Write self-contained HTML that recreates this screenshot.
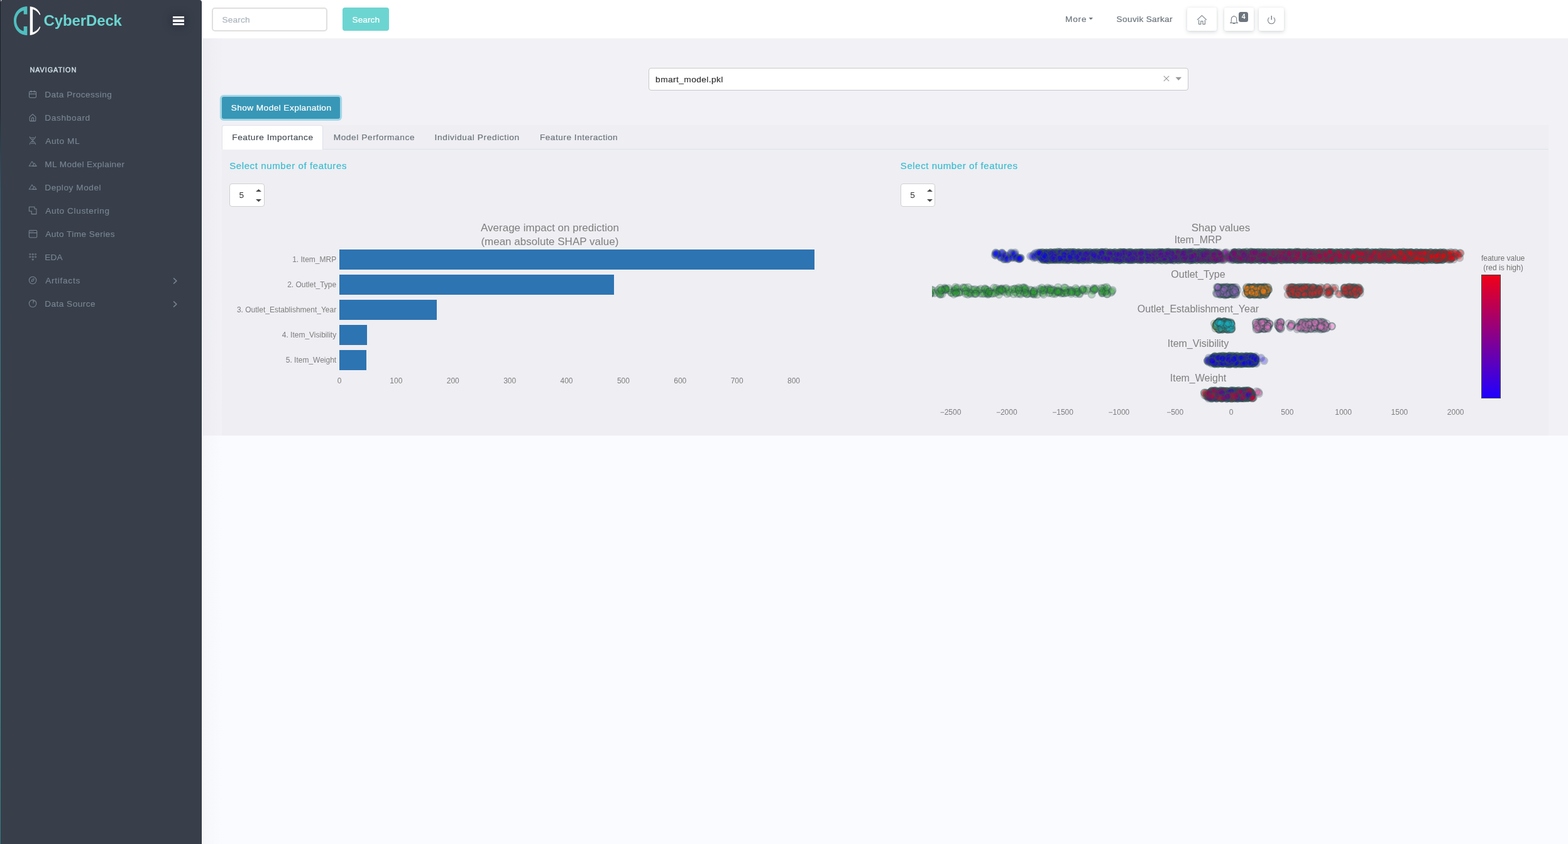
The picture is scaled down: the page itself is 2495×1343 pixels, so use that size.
<!DOCTYPE html><html lang="en"><head><meta charset="utf-8"><title>CyberDeck</title><style>html,body{margin:0;padding:0}body{width:2495px;height:1343px;overflow:hidden;position:relative;background:#fafbfe;font-family:"Liberation Sans", sans-serif}.a{position:absolute;display:block}.t{position:absolute;white-space:pre;line-height:1;display:block}#side{left:0;top:0;width:321px;height:1343px;box-sizing:border-box;background:#383f4a;border-top-right-radius:4px;border-right:1px solid #2c343f;border-left:1px solid #303641}#top{left:320px;top:0;width:2175px;height:61px;background:#fff}#cont{left:320px;top:61px;width:2175px;height:632px;background:#f1f1f6}#panel{left:352.5px;top:199px;width:2111px;height:494px;background:#eeeef3}.ib{background:#fff;border-radius:3px;box-shadow:0 2px 6px 0 rgba(108,117,125,.28),0 0 2px 0 rgba(108,117,125,.12)}.sc circle{opacity:.3;r:5.5px}.sc circle.e{opacity:.62;fill:none}</style></head><body><div class="a" id="top"></div><div class="a" id="cont"></div><div class="a" id="panel"></div><div class="a" id="side"></div><div class="a" style="left:321px;top:61px;width:1px;height:1282px;background:#fbfbfd"></div><div class="a" style="left:322px;top:61px;width:32px;height:1282px;background:linear-gradient(to right,rgba(154,161,171,.06),rgba(154,161,171,.028) 45%,rgba(154,161,171,0))"></div><div class="a" style="left:0;top:0;width:1px;height:1343px;background:linear-gradient(to bottom,#1b1f25 0,#20262d 170px,#2f5d78 300px,#35788e 520px,#2b8787 760px,#3a9a98 1000px,#2d8088 1343px)"></div><div class="a" style="left:1px;top:0;width:2px;height:1px;background:linear-gradient(to right,#f4f4f8,#9a9ea6)"></div><div class="a" style="left:1px;top:1px;width:1px;height:2px;background:linear-gradient(to bottom,#b8bbc2,#5a606b)"></div><nav aria-label="Main navigation"><svg class="a" style="left:20px;top:8px" width="48" height="50" viewBox="20 8 48 50"><path fill="#4fbfc0" d="M43.3 10.3 C30.5 10.3 22 20.5 22 33.2 C22 45.8 30.5 56 43.3 56 V42 H37.7 V49.6 C30.6 47.6 26 41 26 33.2 C26 25.3 30.6 18.7 37.7 16.7 V22.8 H43.3 Z"/><path fill="#fff" d="M47.7 10.3 C55.5 10.8 61.8 15.6 64.3 23.1 L63.2 23.9 C60.6 19 56.8 16 52.1 14.8 V51.5 C56.8 50.3 60.6 47 63.2 42.3 L64.3 43.1 C61.8 50.7 55.5 55.5 47.7 56 Z"/></svg><span class="t" style="left:69.60px;top:21.00px;font-size:24px;color:#6bd5d1;font-weight:bold;letter-spacing:-0.132px;">CyberDeck</span><div class="a" style="left:273px;top:24px;width:22px;height:18px;border-radius:8px;background:rgba(44,50,62,.5);box-shadow:0 0 9px 5px rgba(44,50,62,.5)"></div><div class="a" style="left:275.3px;top:25.9px;width:17.5px;height:3.4px;background:#fff"></div><div class="a" style="left:275.3px;top:31.3px;width:17.5px;height:3.4px;background:#fff"></div><div class="a" style="left:275.3px;top:36.7px;width:17.5px;height:3.4px;background:#fff"></div><span class="t" style="left:47.40px;top:106.00px;font-size:10.8px;color:#cedce4;letter-spacing:0.979px;-webkit-text-stroke:.45px #cedce4;">NAVIGATION</span><span class="t" style="left:71.25px;top:144.00px;font-size:13.6px;color:#7a8695;letter-spacing:0.484px;-webkit-text-stroke:.1px;">Data Processing</span><span class="t" style="left:71.25px;top:181.00px;font-size:13.6px;color:#7a8695;letter-spacing:0.676px;-webkit-text-stroke:.1px;">Dashboard</span><span class="t" style="left:72.25px;top:218.00px;font-size:13.6px;color:#7a8695;letter-spacing:0.614px;-webkit-text-stroke:.1px;">Auto ML</span><span class="t" style="left:71.25px;top:255.00px;font-size:13.6px;color:#7a8695;letter-spacing:0.426px;-webkit-text-stroke:.1px;">ML Model Explainer</span><span class="t" style="left:71.25px;top:292.00px;font-size:13.6px;color:#7a8695;letter-spacing:0.559px;-webkit-text-stroke:.1px;">Deploy Model</span><span class="t" style="left:72.25px;top:329.00px;font-size:13.6px;color:#7a8695;letter-spacing:0.626px;-webkit-text-stroke:.1px;">Auto Clustering</span><span class="t" style="left:72.25px;top:366.00px;font-size:13.6px;color:#7a8695;letter-spacing:0.446px;-webkit-text-stroke:.1px;">Auto Time Series</span><span class="t" style="left:71.25px;top:403.00px;font-size:13.6px;color:#7a8695;letter-spacing:0.183px;-webkit-text-stroke:.1px;">EDA</span><span class="t" style="left:72.25px;top:440.00px;font-size:13.6px;color:#7a8695;letter-spacing:0.731px;-webkit-text-stroke:.1px;">Artifacts</span><span class="t" style="left:71.25px;top:477.00px;font-size:13.6px;color:#7a8695;letter-spacing:0.475px;-webkit-text-stroke:.1px;">Data Source</span><svg class="a" style="left:45px;top:143px" width="14" height="14" viewBox="0 0 14 14" fill="none" stroke="#7a8695" stroke-width="1.05" stroke-linecap="round" stroke-linejoin="round"><rect x="1.5" y="2.6" width="11" height="9.8" rx="1.6"/><path d="M1.5 6.4h11M4.4 1.2v2.6M9.6 1.2v2.6"/></svg><svg class="a" style="left:45px;top:180px" width="14" height="14" viewBox="0 0 14 14" fill="none" stroke="#7a8695" stroke-width="1.05" stroke-linecap="round" stroke-linejoin="round"><path d="M2.2 6.2 7 1.7l4.8 4.5v5.3a1.1 1.1 0 0 1-1.1 1.1H3.3a1.1 1.1 0 0 1-1.1-1.1z"/><path d="M5.5 12.4V8.6a1.5 1.5 0 0 1 3 0v3.8"/></svg><svg class="a" style="left:45px;top:217px" width="14" height="14" viewBox="0 0 14 14" fill="none" stroke="#7a8695" stroke-width="0.95" stroke-linecap="round" stroke-linejoin="round"><path d="M2.2 .5C2.2 5.600 11.600 7.400 11.600 12.800M11.600 .5C11.600 5.600 2.200 7.400 2.200 12.800M3.400 2.300h6.600M4 11h6.600M5.600 4.900h2.800M5.600 8.500h2.800"/></svg><svg class="a" style="left:45px;top:253.2px" width="14" height="14" viewBox="0 0 14 14" fill="none" stroke="#7a8695" stroke-width="1" stroke-linecap="round" stroke-linejoin="round"><path d="M1.4 11.100 5.950 3.800l2.300 3.800M7 11.100l2.600-4.700 3.300 4.700zM1.400 11.100H12.900"/></svg><svg class="a" style="left:45px;top:290.2px" width="14" height="14" viewBox="0 0 14 14" fill="none" stroke="#7a8695" stroke-width="1" stroke-linecap="round" stroke-linejoin="round"><path d="M1.4 11.100 5.950 3.800l2.300 3.800M7 11.100l2.600-4.700 3.300 4.700zM1.400 11.100H12.900"/></svg><svg class="a" style="left:45px;top:328px" width="14" height="14" viewBox="0 0 14 14" fill="none" stroke="#7a8695" stroke-width="1.05" stroke-linecap="round" stroke-linejoin="round"><path d="M1.4 1.300H10V4.200h2.900v8.400H5.200V7.900H1.400z"/></svg><svg class="a" style="left:45px;top:364.5px" width="15" height="14" viewBox="0 0 15 14" fill="none" stroke="#7a8695" stroke-width="1.05" stroke-linecap="round" stroke-linejoin="round"><rect x="1.3" y="1.5" width="12.4" height="11.4" rx="1.4"/><path d="M1.3 5.400h12.400"/><path d="M3.600 3.500h.1M5.600 3.500h.1M7.600 3.500h.1" stroke-width="1"/></svg><svg class="a" style="left:45px;top:402px" width="14" height="14" viewBox="0 0 14 14" fill="none" stroke="#7a8695" stroke-width="0.9" stroke-linecap="round" stroke-linejoin="round"><circle cx="2.7" cy="2.6" r="1.05"/><circle cx="7.1" cy="2.6" r="1.05"/><circle cx="11.5" cy="2.6" r="1.05"/><circle cx="2.7" cy="6.8" r="1.05"/><circle cx="7.1" cy="6.8" r="1.05"/><circle cx="11.5" cy="6.8" r="1.05"/><circle cx="7.1" cy="11" r="1.05"/></svg><svg class="a" style="left:45px;top:439px" width="14" height="14" viewBox="0 0 14 14" fill="none" stroke="#7a8695" stroke-width="1.05" stroke-linecap="round" stroke-linejoin="round"><circle cx="7.05" cy="7" r="5.700"/><path d="M9.100 4.900 8.100 8.100 5 9.100 6 5.900z" stroke-width=".9"/></svg><svg class="a" style="left:45px;top:476px" width="14" height="14" viewBox="0 0 14 14" fill="none" stroke="#7a8695" stroke-width="1.05" stroke-linecap="round" stroke-linejoin="round"><circle cx="7.05" cy="7" r="5.700"/><path d="M8 1.600v4.800M8 3.600h1.400" stroke-width=".9"/></svg><svg class="a" style="left:273px;top:440.3px" width="12" height="14" viewBox="0 0 12 14" fill="none" stroke="#7a8695" stroke-width="1.7" stroke-linecap="round" stroke-linejoin="round"><path d="M3.6 3 7.9 7 3.6 11"/></svg><svg class="a" style="left:273px;top:477.3px" width="12" height="14" viewBox="0 0 12 14" fill="none" stroke="#7a8695" stroke-width="1.7" stroke-linecap="round" stroke-linejoin="round"><path d="M3.6 3 7.9 7 3.6 11"/></svg></nav><header><div class="a" style="left:337px;top:12px;width:184px;height:38px;box-sizing:border-box;border:2px solid #e1dfde;border-radius:5px;background:#fff"></div><span class="t" style="left:353.60px;top:25.20px;font-size:13.7px;color:#adb5bd;letter-spacing:0.129px;-webkit-text-stroke:.2px;">Search</span><div class="a" style="left:545.2px;top:12px;width:73.7px;height:36.8px;border-radius:4px;background:#6dd5d1"></div><span class="t" style="left:560.50px;top:24.50px;font-size:13.7px;color:#fff;letter-spacing:0.029px;-webkit-text-stroke:.2px;">Search</span><span class="t" style="left:1694.90px;top:24.00px;font-size:13.7px;color:#6c757d;letter-spacing:0.843px;-webkit-text-stroke:.2px;">More</span><svg class="a" style="left:1732px;top:28px" width="8" height="4" viewBox="0 0 8 4"><path d="M.5 0h6.6L3.8 3.4z" fill="#6c757d"/></svg><span class="t" style="left:1776.60px;top:24.00px;font-size:13.7px;color:#6c757d;letter-spacing:0.313px;-webkit-text-stroke:.2px;">Souvik Sarkar</span><div class="a ib" style="left:1889px;top:11.8px;width:47.1px;height:37.3px"></div><div class="a ib" style="left:1947.8px;top:11.8px;width:47.2px;height:37.3px"></div><div class="a ib" style="left:2002.9px;top:11.8px;width:40.2px;height:37.3px"></div><svg class="a" style="left:1903px;top:23px" width="19" height="18" viewBox="0 0 19 18" fill="none" stroke="#70787f" stroke-width="1.05" stroke-linejoin="miter"><path d="M2 8.7 9.4 1.7l7.4 7M4.6 8.6v6.8h3.2v-4.6H11v4.6h3.400V8.600"/></svg><svg class="a" style="left:1955.3px;top:23px" width="18" height="18" viewBox="0 0 18 18" fill="none" stroke="#70787f" stroke-width="1.05" stroke-linejoin="miter"><path d="M2.100 13.4H15M3.700 13.2c.7-1.200.6-3.200.6-6a4.200 4.200 0 0 1 8.400 0c0 2.800-.1 4.800.6 6M8.500 3V1.700M7 13.800a1.600 1.600 0 0 0 3 0"/></svg><div class="a" style="left:1971.1px;top:19px;width:14.8px;height:15.9px;border-radius:3.5px;background:#6c757d"></div><span class="t" style="left:1975.75px;top:21.00px;font-size:10.6px;color:#fff;font-weight:bold;">4</span><svg class="a" style="left:2014px;top:23px" width="18" height="18" viewBox="0 0 18 18" fill="none" stroke="#70787f" stroke-width="1.05" stroke-linejoin="miter"><path d="M5.500 4.900a5.600 5.600 0 1 0 7.200 0"/><path d="M9.200 2.100v6.500" stroke-width="1.35"/></svg></header><main><div class="a" style="left:1032px;top:108px;width:859px;height:36px;box-sizing:border-box;border:1px solid #c8c8cb;border-radius:4px;background:#fff"></div><span class="t" style="left:1043.10px;top:119.90px;font-size:13.7px;color:#333;letter-spacing:0.433px;-webkit-text-stroke:.2px;">bmart_model.pkl</span><svg class="a" style="left:1850px;top:119px" width="12" height="12" viewBox="0 0 12 12" fill="none" stroke="#999" stroke-width="1.1"><path d="M1.800 1.800l8.400 8.400M10.200 1.800 1.800 10.200"/></svg><svg class="a" style="left:1870px;top:122px" width="11" height="7" viewBox="0 0 11 7"><path d="M.5 .7h9.600L5.300 5.900z" fill="#999"/></svg><div class="a" style="left:353px;top:153.6px;width:188.3px;height:35.5px;border-radius:3px;background:#3897b6;box-shadow:0 0 0 3.1px rgba(87,187,216,.5)"></div><span class="t" style="left:367.70px;top:165.10px;font-size:13.7px;color:#fff;letter-spacing:0.412px;-webkit-text-stroke:.2px;">Show Model Explanation</span><div class="a" style="left:353px;top:237.2px;width:2110.5px;height:1px;background:#dee2e6"></div><div class="a" style="left:353px;top:199.2px;width:160.8px;height:39px;box-sizing:border-box;border:1px solid #dee2e6;border-bottom:none;border-radius:4px 4px 0 0;background:#fff"></div><span class="t" style="left:369.30px;top:211.90px;font-size:13.7px;color:#495057;letter-spacing:0.545px;-webkit-text-stroke:.2px;">Feature Importance</span><span class="t" style="left:530.70px;top:211.90px;font-size:13.7px;color:#6c757d;letter-spacing:0.586px;-webkit-text-stroke:.2px;">Model Performance</span><span class="t" style="left:691.60px;top:211.90px;font-size:13.7px;color:#6c757d;letter-spacing:0.601px;-webkit-text-stroke:.2px;">Individual Prediction</span><span class="t" style="left:858.90px;top:211.90px;font-size:13.7px;color:#6c757d;letter-spacing:0.496px;-webkit-text-stroke:.2px;">Feature Interaction</span><span class="t" style="left:365.20px;top:256.20px;font-size:15.0px;color:#3bbccf;letter-spacing:0.602px;-webkit-text-stroke:.2px;">Select number of features</span><div class="a" style="left:365.2px;top:292.1px;width:55.5px;height:36.6px;box-sizing:border-box;border:1px solid #cfcfd2;border-radius:4px;background:#fff"></div><span class="t" style="left:380.60px;top:304.00px;font-size:13.7px;color:#333;letter-spacing:-0.600px;">5</span><svg class="a" style="left:406.1px;top:300px" width="11" height="22" viewBox="0 0 11 22"><path d="M1 5.100h9L5.500 .9zM1 17h9L5.500 21.200z" fill="#4a4a4a"/></svg><span class="t" style="left:1432.80px;top:256.20px;font-size:15.0px;color:#3bbccf;letter-spacing:0.602px;-webkit-text-stroke:.2px;">Select number of features</span><div class="a" style="left:1432.8px;top:292.1px;width:55.5px;height:36.6px;box-sizing:border-box;border:1px solid #cfcfd2;border-radius:4px;background:#fff"></div><span class="t" style="left:1448.20px;top:304.00px;font-size:13.7px;color:#333;letter-spacing:-0.600px;">5</span><svg class="a" style="left:1473.7px;top:300px" width="11" height="22" viewBox="0 0 11 22"><path d="M1 5.100h9L5.500 .9zM1 17h9L5.500 21.200z" fill="#4a4a4a"/></svg><span class="t" style="left:765.06px;top:354.20px;font-size:17px;color:#7f7f7f;">Average impact on prediction</span><span class="t" style="left:765.39px;top:376.20px;font-size:17px;color:#7f7f7f;">(mean absolute SHAP value)</span><div class="a" style="left:540px;top:397px;width:755.9px;height:32px;background:#2d74b2"></div><span class="t" style="left:465.18px;top:407.20px;font-size:12px;color:#7f7f7f;">1. Item_MRP</span><div class="a" style="left:540px;top:437px;width:437.3px;height:32px;background:#2d74b2"></div><span class="t" style="left:457.15px;top:447.20px;font-size:12px;color:#7f7f7f;">2. Outlet_Type</span><div class="a" style="left:540px;top:477px;width:154.7px;height:32px;background:#2d74b2"></div><span class="t" style="left:376.88px;top:487.20px;font-size:12px;color:#7f7f7f;">3. Outlet_Establishment_Year</span><div class="a" style="left:540px;top:517px;width:44.1px;height:32px;background:#2d74b2"></div><span class="t" style="left:448.72px;top:527.20px;font-size:12px;color:#7f7f7f;">4. Item_Visibility</span><div class="a" style="left:540px;top:557px;width:43.3px;height:32px;background:#2d74b2"></div><span class="t" style="left:454.72px;top:567.20px;font-size:12px;color:#7f7f7f;">5. Item_Weight</span><span class="t" style="left:536.66px;top:600.00px;font-size:12px;color:#7f7f7f;">0</span><span class="t" style="left:620.37px;top:600.00px;font-size:12px;color:#7f7f7f;">100</span><span class="t" style="left:710.75px;top:600.00px;font-size:12px;color:#7f7f7f;">200</span><span class="t" style="left:801.13px;top:600.00px;font-size:12px;color:#7f7f7f;">300</span><span class="t" style="left:891.51px;top:600.00px;font-size:12px;color:#7f7f7f;">400</span><span class="t" style="left:981.89px;top:600.00px;font-size:12px;color:#7f7f7f;">500</span><span class="t" style="left:1072.27px;top:600.00px;font-size:12px;color:#7f7f7f;">600</span><span class="t" style="left:1162.65px;top:600.00px;font-size:12px;color:#7f7f7f;">700</span><span class="t" style="left:1253.03px;top:600.00px;font-size:12px;color:#7f7f7f;">800</span><span class="t" style="left:1895.72px;top:354.20px;font-size:17px;color:#7f7f7f;">Shap values</span><span class="t" style="left:1868.71px;top:374.00px;font-size:16px;color:#7f7f7f;">Item_MRP</span><span class="t" style="left:1863.36px;top:429.00px;font-size:16px;color:#7f7f7f;">Outlet_Type</span><span class="t" style="left:1809.85px;top:484.00px;font-size:16px;color:#7f7f7f;">Outlet_Establishment_Year</span><span class="t" style="left:1857.74px;top:539.00px;font-size:16px;color:#7f7f7f;">Item_Visibility</span><span class="t" style="left:1861.74px;top:594.00px;font-size:16px;color:#7f7f7f;">Item_Weight</span><span class="t" style="left:1495.65px;top:650.00px;font-size:12px;color:#7f7f7f;">−2500</span><span class="t" style="left:1584.95px;top:650.00px;font-size:12px;color:#7f7f7f;">−2000</span><span class="t" style="left:1674.25px;top:650.00px;font-size:12px;color:#7f7f7f;">−1500</span><span class="t" style="left:1763.55px;top:650.00px;font-size:12px;color:#7f7f7f;">−1000</span><span class="t" style="left:1856.19px;top:650.00px;font-size:12px;color:#7f7f7f;">−500</span><span class="t" style="left:1955.66px;top:650.00px;font-size:12px;color:#7f7f7f;">0</span><span class="t" style="left:2038.29px;top:650.00px;font-size:12px;color:#7f7f7f;">500</span><span class="t" style="left:2124.25px;top:650.00px;font-size:12px;color:#7f7f7f;">1000</span><span class="t" style="left:2213.55px;top:650.00px;font-size:12px;color:#7f7f7f;">1500</span><span class="t" style="left:2302.85px;top:650.00px;font-size:12px;color:#7f7f7f;">2000</span><span class="t" style="left:2356.91px;top:405.00px;font-size:12px;color:#747474;">feature value</span><span class="t" style="left:2360.32px;top:420.00px;font-size:12px;color:#747474;">(red is high)</span><div class="a" style="left:2357px;top:437px;width:31px;height:197px;box-sizing:border-box;border:1px solid #444;background:linear-gradient(to bottom,#f00018,#2000ff)"></div><svg class="a sc" style="left:1483px;top:390px" width="860" height="256" viewBox="0 0 860 256"><defs><linearGradient id="g1" gradientUnits="userSpaceOnUse" x1="107" x2="842"><stop offset="0" stop-color="#101cbf"/><stop offset="1" stop-color="#b41c1c"/></linearGradient></defs><g stroke="#2f4f4f" stroke-width="2"><circle cx="100.2" cy="15.9" fill="#0000ff"/><circle cx="103.8" cy="14.3" fill="#0700f8"/><circle cx="101.7" cy="16.3" fill="#0000ff"/><circle cx="101.4" cy="12.1" fill="#0500fa"/><circle cx="103.3" cy="13.3" fill="#0000ff"/><circle cx="101.3" cy="13.0" fill="#0000ff"/><circle cx="111.5" cy="13.4" fill="#0000ff"/><circle cx="111.3" cy="12.2" fill="#0000ff"/><circle cx="111.2" cy="12.8" fill="#0a00f5"/><circle cx="109.3" cy="19.1" fill="#0000ff"/><circle cx="108.9" cy="17.8" fill="#0000ff"/><circle cx="109.6" cy="19.8" fill="#0b00f4"/><circle cx="114.7" cy="22.2" fill="#0500fa"/><circle cx="114.5" cy="22.3" fill="#0000ff"/><circle cx="117.0" cy="21.8" fill="#0600f9"/><circle cx="116.8" cy="17.8" fill="#0000ff"/><circle cx="117.1" cy="16.2" fill="#0b00f4"/><circle cx="116.4" cy="16.4" fill="#3000cf"/><circle cx="120.6" cy="21.5" fill="#0000ff"/><circle cx="121.1" cy="21.6" fill="#0c00f3"/><circle cx="119.8" cy="23.0" fill="#1100ee"/><circle cx="125.5" cy="13.3" fill="#1600e9"/><circle cx="126.1" cy="11.9" fill="#0800f7"/><circle cx="127.0" cy="14.2" fill="#1300ec"/><circle cx="128.5" cy="18.6" fill="#0000ff"/><circle cx="127.0" cy="20.2" fill="#1000ef"/><circle cx="128.0" cy="19.7" fill="#0100fe"/><circle cx="132.2" cy="12.0" fill="#1400eb"/><circle cx="131.1" cy="14.9" fill="#0100fe"/><circle cx="131.5" cy="14.1" fill="#0000ff"/><circle cx="134.6" cy="19.9" fill="#0a00f5"/><circle cx="134.9" cy="18.8" fill="#0400fb"/><circle cx="133.0" cy="20.7" fill="#0a00f5"/><circle cx="137.8" cy="21.9" fill="#0000ff"/><circle cx="140.6" cy="20.2" fill="#0200fd"/><circle cx="138.7" cy="21.3" fill="#0900f6"/><circle cx="141.2" cy="20.7" fill="#0200fd"/><circle cx="139.9" cy="21.9" fill="#0600f9"/><circle cx="138.8" cy="21.8" fill="#0b00f4"/><rect x="167.6" y="6.4" width="295.8" height="22.2" rx="11.1" fill="#2f4f4f" stroke="none" opacity="0.79"/><rect x="168.8" y="8.1" width="293.4" height="18.8" rx="9.4" fill="url(#g1)" stroke="none" opacity="0.92"/><g opacity="0.92"><circle class="e" cx="175.8" cy="11.8"/><circle class="e" cx="182.1" cy="11.9"/><circle class="e" cx="188.8" cy="11.5"/><circle class="e" cx="195.1" cy="11.5"/><circle class="e" cx="200.2" cy="11.1"/><circle class="e" cx="203.8" cy="11.1"/><circle class="e" cx="210.5" cy="11.6"/><circle class="e" cx="217.1" cy="11.2"/><circle class="e" cx="221.6" cy="11.2"/><circle class="e" cx="226.0" cy="11.3"/><circle class="e" cx="233.2" cy="11.6"/><circle class="e" cx="240.9" cy="11.7"/><circle class="e" cx="245.5" cy="11.5"/><circle class="e" cx="251.2" cy="11.4"/><circle class="e" cx="258.2" cy="11.8"/><circle class="e" cx="262.5" cy="11.4"/><circle class="e" cx="269.8" cy="11.3"/><circle class="e" cx="276.7" cy="11.1"/><circle class="e" cx="283.6" cy="11.7"/><circle class="e" cx="290.9" cy="11.4"/><circle class="e" cx="299.2" cy="11.2"/><circle class="e" cx="305.1" cy="11.4"/><circle class="e" cx="312.6" cy="11.4"/><circle class="e" cx="316.1" cy="11.3"/><circle class="e" cx="324.5" cy="11.8"/><circle class="e" cx="329.3" cy="11.7"/><circle class="e" cx="333.9" cy="11.9"/><circle class="e" cx="341.5" cy="11.8"/><circle class="e" cx="345.4" cy="11.8"/><circle class="e" cx="349.8" cy="11.8"/><circle class="e" cx="354.8" cy="11.8"/><circle class="e" cx="360.8" cy="11.3"/><circle class="e" cx="366.6" cy="11.4"/><circle class="e" cx="372.6" cy="11.3"/><circle class="e" cx="376.2" cy="11.1"/><circle class="e" cx="381.6" cy="11.6"/><circle class="e" cx="386.0" cy="11.6"/><circle class="e" cx="389.7" cy="11.4"/><circle class="e" cx="393.4" cy="11.8"/><circle class="e" cx="401.6" cy="11.2"/><circle class="e" cx="406.7" cy="11.8"/><circle class="e" cx="410.8" cy="11.5"/><circle class="e" cx="414.9" cy="11.1"/><circle class="e" cx="421.4" cy="11.6"/><circle class="e" cx="427.0" cy="11.1"/><circle class="e" cx="431.7" cy="11.0"/><circle class="e" cx="435.8" cy="11.3"/><circle class="e" cx="442.2" cy="11.4"/><circle class="e" cx="449.6" cy="11.7"/><circle class="e" cx="177.2" cy="23.3"/><circle class="e" cx="185.2" cy="23.8"/><circle class="e" cx="190.4" cy="23.4"/><circle class="e" cx="196.0" cy="23.3"/><circle class="e" cx="201.0" cy="23.5"/><circle class="e" cx="205.7" cy="23.3"/><circle class="e" cx="211.0" cy="23.6"/><circle class="e" cx="216.9" cy="23.7"/><circle class="e" cx="225.2" cy="23.4"/><circle class="e" cx="229.6" cy="23.4"/><circle class="e" cx="233.4" cy="23.7"/><circle class="e" cx="240.2" cy="23.8"/><circle class="e" cx="246.3" cy="23.4"/><circle class="e" cx="251.2" cy="23.5"/><circle class="e" cx="259.4" cy="23.3"/><circle class="e" cx="265.4" cy="23.6"/><circle class="e" cx="270.3" cy="23.8"/><circle class="e" cx="276.4" cy="23.3"/><circle class="e" cx="284.7" cy="23.1"/><circle class="e" cx="292.7" cy="23.6"/><circle class="e" cx="298.1" cy="24.0"/><circle class="e" cx="304.8" cy="23.4"/><circle class="e" cx="312.1" cy="23.2"/><circle class="e" cx="316.1" cy="23.4"/><circle class="e" cx="320.5" cy="23.3"/><circle class="e" cx="328.8" cy="23.3"/><circle class="e" cx="333.6" cy="23.3"/><circle class="e" cx="340.9" cy="23.4"/><circle class="e" cx="347.1" cy="23.2"/><circle class="e" cx="354.6" cy="23.8"/><circle class="e" cx="361.6" cy="23.3"/><circle class="e" cx="365.5" cy="23.9"/><circle class="e" cx="371.9" cy="23.9"/><circle class="e" cx="377.4" cy="23.1"/><circle class="e" cx="385.0" cy="23.9"/><circle class="e" cx="392.3" cy="23.8"/><circle class="e" cx="397.3" cy="23.2"/><circle class="e" cx="404.9" cy="23.2"/><circle class="e" cx="410.3" cy="23.9"/><circle class="e" cx="414.4" cy="23.6"/><circle class="e" cx="421.1" cy="23.7"/><circle class="e" cx="428.7" cy="23.8"/><circle class="e" cx="435.2" cy="23.7"/><circle class="e" cx="441.6" cy="23.8"/><circle class="e" cx="449.1" cy="23.8"/></g><rect x="471.6" y="6.4" width="352.8" height="22.2" rx="11.1" fill="#2f4f4f" stroke="none" opacity="0.79"/><rect x="472.8" y="8.1" width="350.4" height="18.8" rx="9.4" fill="url(#g1)" stroke="none" opacity="0.92"/><g opacity="0.92"><circle class="e" cx="481.1" cy="11.6"/><circle class="e" cx="488.3" cy="11.2"/><circle class="e" cx="495.9" cy="11.6"/><circle class="e" cx="500.6" cy="11.0"/><circle class="e" cx="507.2" cy="11.1"/><circle class="e" cx="512.8" cy="11.4"/><circle class="e" cx="518.7" cy="11.2"/><circle class="e" cx="524.0" cy="11.3"/><circle class="e" cx="529.9" cy="11.6"/><circle class="e" cx="535.6" cy="11.5"/><circle class="e" cx="539.3" cy="11.8"/><circle class="e" cx="543.7" cy="11.6"/><circle class="e" cx="549.7" cy="11.3"/><circle class="e" cx="555.6" cy="11.8"/><circle class="e" cx="559.4" cy="11.7"/><circle class="e" cx="567.8" cy="11.2"/><circle class="e" cx="572.2" cy="11.4"/><circle class="e" cx="578.8" cy="11.1"/><circle class="e" cx="582.9" cy="11.0"/><circle class="e" cx="590.2" cy="11.7"/><circle class="e" cx="597.2" cy="11.1"/><circle class="e" cx="603.1" cy="11.8"/><circle class="e" cx="609.3" cy="11.6"/><circle class="e" cx="617.0" cy="11.6"/><circle class="e" cx="623.8" cy="11.6"/><circle class="e" cx="630.5" cy="11.4"/><circle class="e" cx="636.9" cy="11.6"/><circle class="e" cx="643.7" cy="11.5"/><circle class="e" cx="650.8" cy="11.3"/><circle class="e" cx="659.3" cy="11.2"/><circle class="e" cx="663.0" cy="11.6"/><circle class="e" cx="670.4" cy="11.2"/><circle class="e" cx="675.7" cy="11.0"/><circle class="e" cx="679.2" cy="11.3"/><circle class="e" cx="684.3" cy="11.2"/><circle class="e" cx="689.2" cy="11.4"/><circle class="e" cx="693.0" cy="11.1"/><circle class="e" cx="700.4" cy="11.6"/><circle class="e" cx="705.9" cy="11.4"/><circle class="e" cx="712.8" cy="11.1"/><circle class="e" cx="716.4" cy="11.3"/><circle class="e" cx="721.9" cy="11.2"/><circle class="e" cx="727.1" cy="11.5"/><circle class="e" cx="732.3" cy="11.7"/><circle class="e" cx="738.8" cy="11.7"/><circle class="e" cx="744.3" cy="11.6"/><circle class="e" cx="750.0" cy="11.1"/><circle class="e" cx="754.1" cy="11.9"/><circle class="e" cx="762.3" cy="11.4"/><circle class="e" cx="770.8" cy="11.4"/><circle class="e" cx="777.9" cy="11.8"/><circle class="e" cx="785.7" cy="11.9"/><circle class="e" cx="793.4" cy="11.6"/><circle class="e" cx="801.0" cy="11.9"/><circle class="e" cx="808.9" cy="11.7"/><circle class="e" cx="814.3" cy="11.8"/><circle class="e" cx="479.7" cy="23.2"/><circle class="e" cx="485.6" cy="23.5"/><circle class="e" cx="493.4" cy="23.3"/><circle class="e" cx="501.7" cy="23.2"/><circle class="e" cx="508.4" cy="23.3"/><circle class="e" cx="513.7" cy="23.4"/><circle class="e" cx="521.8" cy="24.0"/><circle class="e" cx="529.5" cy="23.2"/><circle class="e" cx="536.6" cy="23.2"/><circle class="e" cx="540.9" cy="23.9"/><circle class="e" cx="544.5" cy="24.0"/><circle class="e" cx="548.3" cy="23.7"/><circle class="e" cx="556.7" cy="23.8"/><circle class="e" cx="562.8" cy="23.3"/><circle class="e" cx="567.1" cy="23.3"/><circle class="e" cx="570.8" cy="23.2"/><circle class="e" cx="578.4" cy="23.7"/><circle class="e" cx="584.5" cy="23.5"/><circle class="e" cx="588.5" cy="23.8"/><circle class="e" cx="592.1" cy="23.3"/><circle class="e" cx="598.1" cy="23.5"/><circle class="e" cx="603.8" cy="23.3"/><circle class="e" cx="611.3" cy="23.4"/><circle class="e" cx="615.5" cy="23.2"/><circle class="e" cx="620.3" cy="24.0"/><circle class="e" cx="628.3" cy="23.8"/><circle class="e" cx="634.0" cy="23.9"/><circle class="e" cx="639.2" cy="23.5"/><circle class="e" cx="643.3" cy="23.9"/><circle class="e" cx="650.4" cy="23.8"/><circle class="e" cx="657.7" cy="23.2"/><circle class="e" cx="662.0" cy="23.6"/><circle class="e" cx="669.9" cy="23.8"/><circle class="e" cx="675.8" cy="23.6"/><circle class="e" cx="682.4" cy="23.9"/><circle class="e" cx="689.2" cy="23.3"/><circle class="e" cx="696.4" cy="23.5"/><circle class="e" cx="704.1" cy="23.2"/><circle class="e" cx="710.7" cy="23.4"/><circle class="e" cx="715.4" cy="23.3"/><circle class="e" cx="719.7" cy="24.0"/><circle class="e" cx="728.0" cy="23.3"/><circle class="e" cx="732.9" cy="23.4"/><circle class="e" cx="740.6" cy="23.4"/><circle class="e" cx="746.1" cy="23.4"/><circle class="e" cx="751.5" cy="23.6"/><circle class="e" cx="757.8" cy="23.9"/><circle class="e" cx="762.7" cy="23.8"/><circle class="e" cx="766.9" cy="23.9"/><circle class="e" cx="773.8" cy="23.9"/><circle class="e" cx="779.7" cy="23.5"/><circle class="e" cx="783.9" cy="23.9"/><circle class="e" cx="789.7" cy="23.5"/><circle class="e" cx="795.2" cy="23.4"/><circle class="e" cx="801.5" cy="23.6"/><circle class="e" cx="807.2" cy="23.2"/><circle class="e" cx="812.3" cy="23.5"/></g><circle cx="164.9" cy="19.6" fill="#1700e8"/><circle cx="172.1" cy="17.5" fill="#2100de"/><circle cx="164.7" cy="18.7" fill="#0b00f4"/><circle cx="162.4" cy="14.7" fill="#2600d9"/><circle cx="170.8" cy="14.4" fill="#0f00f0"/><circle cx="160.0" cy="17.8" fill="#0000ff"/><circle cx="171.6" cy="19.2" fill="#0100fe"/><circle cx="162.0" cy="20.3" fill="#2200dd"/><circle cx="170.6" cy="15.0" fill="#1d00e2"/><circle cx="156.8" cy="17.6" fill="#0d00f2"/><circle cx="166.8" cy="15.9" fill="#0000ff"/><circle cx="164.7" cy="12.7" fill="#0000ff"/><circle cx="363.6" cy="17.5" fill="#5a00a5"/><circle cx="391.5" cy="12.4" fill="#690096"/><circle cx="582.3" cy="11.7" fill="#b80047"/><circle cx="616.6" cy="19.7" fill="#c0003f"/><circle cx="273.8" cy="12.3" fill="#2500da"/><circle cx="429.0" cy="22.5" fill="#70008f"/><circle cx="682.3" cy="20.3" fill="#bd0042"/><circle cx="600.9" cy="15.5" fill="#bd0042"/><circle cx="669.8" cy="16.9" fill="#c3003c"/><circle cx="505.6" cy="20.7" fill="#970068"/><circle cx="619.0" cy="21.8" fill="#b70048"/><circle cx="715.2" cy="12.6" fill="#dd0022"/><circle cx="218.9" cy="21.1" fill="#2b00d4"/><circle cx="729.4" cy="12.6" fill="#e3001c"/><circle cx="825.0" cy="14.2" fill="#ff0000"/><circle cx="715.1" cy="18.7" fill="#cc0033"/><circle cx="298.2" cy="15.1" fill="#3f00c0"/><circle cx="748.2" cy="15.7" fill="#e3001c"/><circle cx="216.7" cy="21.3" fill="#1600e9"/><circle cx="506.7" cy="19.9" fill="#7e0081"/><circle cx="797.2" cy="13.8" fill="#f80007"/><circle cx="465.8" cy="12.5" fill="#7c0083"/><circle cx="735.8" cy="19.6" fill="#c70038"/><circle cx="695.8" cy="19.0" fill="#e0001f"/><circle cx="328.6" cy="13.4" fill="#4300bc"/><circle cx="399.4" cy="14.0" fill="#5200ad"/><circle cx="287.3" cy="21.7" fill="#4c00b3"/><circle cx="182.5" cy="23.5" fill="#0f00f0"/><circle cx="330.6" cy="15.5" fill="#3600c9"/><circle cx="609.6" cy="22.5" fill="#c5003a"/><circle cx="346.5" cy="20.6" fill="#5800a7"/><circle cx="460.7" cy="21.2" fill="#80007f"/><circle cx="545.1" cy="12.3" fill="#b5004a"/><circle cx="324.8" cy="14.4" fill="#2b00d4"/><circle cx="280.2" cy="17.8" fill="#3d00c2"/><circle cx="201.6" cy="21.2" fill="#0e00f1"/><circle cx="453.9" cy="12.1" fill="#7d0082"/><circle cx="279.5" cy="21.2" fill="#3000cf"/><circle cx="671.2" cy="23.6" fill="#b5004a"/><circle cx="707.0" cy="20.7" fill="#cf0030"/><circle cx="766.7" cy="22.5" fill="#d60029"/><circle cx="494.2" cy="14.1" fill="#80007f"/><circle cx="414.4" cy="13.0" fill="#70008f"/><circle cx="419.6" cy="13.6" fill="#7c0083"/><circle cx="404.1" cy="22.9" fill="#5500aa"/><circle cx="819.3" cy="12.3" fill="#ff0000"/><circle cx="646.0" cy="13.0" fill="#e2001d"/><circle cx="641.0" cy="17.3" fill="#ae0051"/><circle cx="199.3" cy="14.8" fill="#2200dd"/><circle cx="489.8" cy="23.4" fill="#a4005b"/><circle cx="508.6" cy="18.9" fill="#870078"/><circle cx="499.5" cy="13.6" fill="#9f0060"/><circle cx="655.5" cy="12.2" fill="#a90056"/><circle cx="181.8" cy="17.4" fill="#2900d6"/><circle cx="371.9" cy="14.9" fill="#61009e"/><circle cx="416.3" cy="18.9" fill="#8b0074"/><circle cx="823.0" cy="18.0" fill="#ff0000"/><circle cx="328.3" cy="20.4" fill="#4600b9"/><circle cx="392.6" cy="12.3" fill="#65009a"/><circle cx="187.4" cy="14.5" fill="#0800f7"/><circle cx="696.5" cy="18.4" fill="#c0003f"/><circle cx="596.1" cy="17.5" fill="#c4003b"/><circle cx="564.7" cy="21.7" fill="#880077"/><circle cx="755.0" cy="17.2" fill="#d60029"/><circle cx="507.2" cy="13.6" fill="#8f0070"/><circle cx="416.8" cy="17.5" fill="#7e0081"/><circle cx="298.8" cy="13.9" fill="#3e00c1"/><circle cx="360.5" cy="22.8" fill="#5400ab"/><circle cx="459.4" cy="20.5" fill="#7c0083"/><circle cx="758.6" cy="18.8" fill="#e90016"/><circle cx="825.0" cy="23.0" fill="#fa0005"/><circle cx="752.6" cy="15.3" fill="#eb0014"/><circle cx="185.6" cy="15.0" fill="#1f00e0"/><circle cx="803.7" cy="23.2" fill="#ed0012"/><circle cx="780.0" cy="16.8" fill="#e60019"/><circle cx="735.0" cy="14.0" fill="#dd0022"/><circle cx="724.2" cy="12.6" fill="#d60029"/><circle cx="562.8" cy="12.0" fill="#d2002d"/><circle cx="325.0" cy="14.5" fill="#4c00b3"/><circle cx="561.9" cy="21.1" fill="#9e0061"/><circle cx="462.5" cy="23.2" fill="#970068"/><circle cx="559.8" cy="18.7" fill="#a80057"/><circle cx="495.7" cy="16.7" fill="#75008a"/><circle cx="678.6" cy="23.3" fill="#e1001e"/><circle cx="425.7" cy="12.2" fill="#5600a9"/><circle cx="809.8" cy="18.2" fill="#ff0000"/><circle cx="359.8" cy="21.2" fill="#5100ae"/><circle cx="812.2" cy="20.3" fill="#ff0000"/><circle cx="371.4" cy="17.1" fill="#4600b9"/><circle cx="809.6" cy="15.6" fill="#f2000d"/><circle cx="671.9" cy="17.0" fill="#ca0035"/><circle cx="433.7" cy="12.4" fill="#8b0074"/><circle cx="412.4" cy="21.0" fill="#660099"/><circle cx="172.7" cy="12.3" fill="#2a00d5"/><circle cx="600.5" cy="15.5" fill="#b2004d"/><circle cx="699.7" cy="19.4" fill="#e70018"/><circle cx="774.3" cy="20.4" fill="#fd0002"/><circle cx="236.3" cy="15.9" fill="#2100de"/><circle cx="349.1" cy="21.9" fill="#4e00b1"/><circle cx="175.7" cy="16.6" fill="#1900e6"/><circle cx="746.7" cy="16.7" fill="#dd0022"/><circle cx="375.4" cy="21.0" fill="#5e00a1"/><circle cx="615.4" cy="12.5" fill="#d2002d"/><circle cx="224.2" cy="19.1" fill="#1e00e1"/><circle cx="181.0" cy="13.6" fill="#1700e8"/><circle cx="600.4" cy="22.3" fill="#b0004f"/><circle cx="193.2" cy="22.4" fill="#2000df"/><circle cx="775.0" cy="16.0" fill="#f0000f"/><circle cx="661.4" cy="16.2" fill="#bd0042"/><circle cx="397.6" cy="16.5" fill="#5c00a3"/><circle cx="592.5" cy="19.4" fill="#b2004d"/><circle cx="264.4" cy="21.2" fill="#2f00d0"/><circle cx="769.7" cy="23.4" fill="#e3001c"/><circle cx="507.2" cy="23.7" fill="#74008b"/><circle cx="771.9" cy="18.9" fill="#f0000f"/><circle cx="622.3" cy="20.8" fill="#b5004a"/><circle cx="217.5" cy="16.1" fill="#3900c6"/><circle cx="780.6" cy="23.0" fill="#e90016"/><circle cx="784.6" cy="17.0" fill="#f3000c"/><circle cx="194.1" cy="16.3" fill="#2600d9"/><circle cx="800.4" cy="13.1" fill="#ec0013"/><circle cx="365.6" cy="12.5" fill="#5400ab"/><circle cx="645.4" cy="18.2" fill="#bf0040"/><circle cx="639.1" cy="15.5" fill="#b3004c"/><circle cx="403.7" cy="21.5" fill="#690096"/><circle cx="788.1" cy="16.1" fill="#db0024"/><circle cx="766.0" cy="12.8" fill="#f0000f"/><circle cx="659.4" cy="14.0" fill="#b70048"/><circle cx="398.6" cy="19.6" fill="#4600b9"/><circle cx="721.8" cy="15.9" fill="#de0021"/><circle cx="287.6" cy="17.1" fill="#5500aa"/><circle cx="582.0" cy="15.7" fill="#970068"/><circle cx="633.8" cy="17.0" fill="#c80037"/><circle cx="822.0" cy="15.7" fill="#fd0002"/><circle cx="190.6" cy="17.4" fill="#2600d9"/><circle cx="794.9" cy="17.0" fill="#ff0000"/><circle cx="683.4" cy="23.6" fill="#cf0030"/><circle cx="172.5" cy="15.8" fill="#1500ea"/><circle cx="393.5" cy="19.9" fill="#670098"/><circle cx="765.9" cy="13.4" fill="#df0020"/><circle cx="631.3" cy="21.1" fill="#cc0033"/><circle cx="270.7" cy="17.1" fill="#3800c7"/><circle cx="567.9" cy="12.4" fill="#9f0060"/><circle cx="405.6" cy="15.4" fill="#74008b"/><circle cx="245.5" cy="15.8" fill="#1700e8"/><circle cx="264.7" cy="23.2" fill="#3000cf"/><circle cx="499.2" cy="18.7" fill="#860079"/><circle cx="217.5" cy="19.6" fill="#1900e6"/><circle cx="604.4" cy="14.0" fill="#bf0040"/><circle cx="605.5" cy="12.5" fill="#b2004d"/><circle cx="444.2" cy="19.5" fill="#7c0083"/><circle cx="369.8" cy="22.4" fill="#760089"/><circle cx="323.4" cy="19.4" fill="#5f00a0"/><circle cx="616.9" cy="19.9" fill="#b60049"/><circle cx="584.9" cy="12.3" fill="#92006d"/><circle cx="241.1" cy="19.6" fill="#2900d6"/><circle cx="202.0" cy="17.4" fill="#2400db"/><circle cx="480.7" cy="17.6" fill="#93006c"/><circle cx="324.6" cy="13.2" fill="#3600c9"/><circle cx="209.4" cy="15.0" fill="#1400eb"/><circle cx="663.2" cy="18.8" fill="#b1004e"/><circle cx="550.2" cy="12.3" fill="#b90046"/><circle cx="300.0" cy="12.2" fill="#4400bb"/><circle cx="358.5" cy="17.6" fill="#4400bb"/><circle cx="661.5" cy="21.1" fill="#c70038"/><circle cx="608.5" cy="23.3" fill="#ad0052"/><circle cx="425.3" cy="17.1" fill="#6a0095"/><circle cx="340.1" cy="16.3" fill="#5d00a2"/><circle cx="451.4" cy="18.8" fill="#9b0064"/><circle cx="190.6" cy="22.0" fill="#2100de"/><circle cx="692.4" cy="11.5" fill="#e2001d"/><circle cx="705.2" cy="17.9" fill="#cc0033"/><circle cx="249.4" cy="16.6" fill="#1800e7"/><circle cx="485.6" cy="18.2" fill="#7b0084"/><circle cx="241.8" cy="22.3" fill="#2d00d2"/><circle cx="705.6" cy="13.8" fill="#e70018"/><circle cx="443.8" cy="15.9" fill="#860079"/><circle cx="426.3" cy="22.5" fill="#760089"/><circle cx="424.0" cy="20.7" fill="#6e0091"/><circle cx="394.7" cy="17.2" fill="#65009a"/><circle cx="670.1" cy="20.9" fill="#bb0044"/><circle cx="293.2" cy="20.9" fill="#3500ca"/><circle cx="705.1" cy="13.1" fill="#c5003a"/><circle cx="234.4" cy="14.1" fill="#2a00d5"/><circle cx="287.7" cy="16.0" fill="#2a00d5"/><circle cx="624.3" cy="15.1" fill="#ae0051"/><circle cx="211.1" cy="15.5" fill="#1500ea"/><circle cx="743.7" cy="17.1" fill="#d80027"/><circle cx="505.3" cy="18.1" fill="#90006f"/><circle cx="409.3" cy="19.4" fill="#5700a8"/><circle cx="215.1" cy="18.4" fill="#0e00f1"/><circle cx="583.3" cy="17.0" fill="#c0003f"/><circle cx="534.1" cy="20.6" fill="#860079"/><circle cx="233.6" cy="12.7" fill="#1700e8"/><circle cx="233.9" cy="13.1" fill="#0f00f0"/><circle cx="439.1" cy="23.0" fill="#74008b"/><circle cx="737.2" cy="15.3" fill="#ec0013"/><circle cx="290.4" cy="23.4" fill="#4f00b0"/><circle cx="801.3" cy="19.6" fill="#ff0000"/><circle cx="805.6" cy="14.2" fill="#f60009"/><circle cx="692.6" cy="14.6" fill="#e4001b"/><circle cx="364.3" cy="11.9" fill="#4e00b1"/><circle cx="194.6" cy="13.4" fill="#1700e8"/><circle cx="272.8" cy="11.5" fill="#4600b9"/><circle cx="721.2" cy="18.7" fill="#d70028"/><circle cx="655.5" cy="18.6" fill="#dc0023"/><circle cx="767.0" cy="14.6" fill="#ea0015"/><circle cx="399.1" cy="15.8" fill="#5800a7"/><circle cx="521.3" cy="23.1" fill="#81007e"/><circle cx="609.9" cy="16.7" fill="#b60049"/><circle cx="570.2" cy="18.1" fill="#9e0061"/><circle cx="735.8" cy="21.2" fill="#d3002c"/><circle cx="591.7" cy="18.0" fill="#b70048"/><circle cx="808.1" cy="21.9" fill="#dd0022"/><circle cx="637.1" cy="23.5" fill="#c4003b"/><circle cx="231.7" cy="13.1" fill="#2900d6"/><circle cx="657.7" cy="17.4" fill="#af0050"/><circle cx="761.0" cy="23.3" fill="#f60009"/><circle cx="778.9" cy="13.4" fill="#ed0012"/><circle cx="410.4" cy="11.3" fill="#5b00a4"/><circle cx="265.2" cy="13.3" fill="#2800d7"/><circle cx="799.3" cy="14.0" fill="#ff0000"/><circle cx="172.9" cy="22.6" fill="#0000ff"/><circle cx="479.2" cy="14.7" fill="#81007e"/><circle cx="633.3" cy="16.0" fill="#b3004c"/><circle cx="706.4" cy="18.0" fill="#eb0014"/><circle cx="229.1" cy="17.6" fill="#1200ed"/><circle cx="397.6" cy="13.0" fill="#5200ad"/><circle cx="524.8" cy="18.3" fill="#870078"/><circle cx="585.9" cy="13.9" fill="#b80047"/><circle cx="238.7" cy="22.1" fill="#2f00d0"/><circle cx="820.2" cy="22.6" fill="#f5000a"/><circle cx="732.4" cy="17.7" fill="#cb0034"/><circle cx="271.9" cy="14.7" fill="#2b00d4"/><circle cx="401.8" cy="21.1" fill="#6b0094"/><circle cx="171.3" cy="12.2" fill="#0600f9"/><circle cx="288.8" cy="18.3" fill="#2800d7"/><circle cx="650.0" cy="20.7" fill="#b70048"/><circle cx="821.6" cy="16.6" fill="#ff0000"/><circle cx="596.2" cy="12.9" fill="#bc0043"/><circle cx="804.1" cy="23.1" fill="#f5000a"/><circle cx="293.0" cy="21.2" fill="#3900c6"/><circle cx="636.4" cy="23.5" fill="#cc0033"/><circle cx="650.3" cy="15.5" fill="#cc0033"/><circle cx="481.0" cy="20.8" fill="#780087"/><circle cx="243.4" cy="21.1" fill="#3800c7"/><circle cx="647.6" cy="18.7" fill="#bb0044"/><circle cx="635.0" cy="17.2" fill="#ae0051"/><circle cx="338.5" cy="15.3" fill="#3700c8"/><circle cx="621.8" cy="17.0" fill="#b0004f"/><circle cx="617.6" cy="18.8" fill="#b80047"/><circle cx="448.9" cy="20.2" fill="#7d0082"/><circle cx="687.7" cy="13.4" fill="#c90036"/><circle cx="415.8" cy="15.5" fill="#6f0090"/><circle cx="182.4" cy="18.5" fill="#2c00d3"/><circle cx="319.1" cy="14.4" fill="#4300bc"/><circle cx="820.2" cy="16.4" fill="#fe0001"/><circle cx="191.1" cy="17.0" fill="#3000cf"/><circle cx="665.3" cy="13.7" fill="#c0003f"/><circle cx="766.4" cy="18.9" fill="#fb0004"/><circle cx="471.7" cy="19.4" fill="#880077"/><circle cx="271.4" cy="14.7" fill="#2f00d0"/><circle cx="450.3" cy="12.1" fill="#61009e"/><circle cx="450.1" cy="15.2" fill="#75008a"/><circle cx="353.4" cy="18.2" fill="#5c00a3"/><circle cx="431.4" cy="15.1" fill="#7a0085"/><circle cx="776.5" cy="12.5" fill="#e0001f"/><circle cx="736.9" cy="17.2" fill="#d2002d"/><circle cx="746.6" cy="20.2" fill="#e1001e"/><circle cx="356.8" cy="12.6" fill="#4700b8"/><circle cx="568.4" cy="12.9" fill="#960069"/><circle cx="705.4" cy="18.1" fill="#d60029"/><circle cx="681.3" cy="20.5" fill="#e70018"/><circle cx="690.0" cy="17.5" fill="#d90026"/><circle cx="756.8" cy="23.4" fill="#d80027"/><circle cx="670.0" cy="22.0" fill="#c3003c"/><circle cx="511.2" cy="19.5" fill="#93006c"/><circle cx="680.2" cy="19.7" fill="#c4003b"/><circle cx="305.7" cy="11.7" fill="#4900b6"/><circle cx="482.1" cy="11.3" fill="#8e0071"/><circle cx="323.1" cy="17.7" fill="#4200bd"/><circle cx="386.7" cy="19.2" fill="#5700a8"/><circle cx="597.5" cy="21.6" fill="#a60059"/><circle cx="750.5" cy="23.5" fill="#de0021"/><circle cx="527.4" cy="17.9" fill="#8d0072"/><circle cx="573.7" cy="20.4" fill="#8c0073"/><circle cx="746.0" cy="16.1" fill="#f80007"/><circle cx="484.9" cy="13.2" fill="#8f0070"/><circle cx="264.2" cy="20.0" fill="#2000df"/><circle cx="380.7" cy="14.3" fill="#4f00b0"/><circle cx="772.3" cy="15.6" fill="#ea0015"/><circle cx="722.9" cy="20.1" fill="#e2001d"/><circle cx="488.5" cy="23.5" fill="#7d0082"/><circle cx="633.3" cy="16.9" fill="#ce0031"/><circle cx="525.5" cy="14.9" fill="#980067"/><circle cx="579.7" cy="20.3" fill="#9e0061"/><circle cx="301.0" cy="20.5" fill="#3700c8"/><circle cx="171.7" cy="12.0" fill="#1100ee"/><circle cx="696.1" cy="22.6" fill="#e70018"/><circle cx="432.6" cy="13.0" fill="#6a0095"/><circle cx="667.4" cy="18.2" fill="#b5004a"/><circle cx="589.1" cy="15.7" fill="#ba0045"/><circle cx="204.6" cy="12.0" fill="#2600d9"/><circle cx="557.7" cy="15.6" fill="#b5004a"/><circle cx="207.2" cy="18.3" fill="#2b00d4"/><circle cx="424.5" cy="19.5" fill="#6d0092"/><circle cx="327.9" cy="21.0" fill="#5300ac"/><circle cx="521.4" cy="15.3" fill="#9f0060"/><circle cx="451.7" cy="19.8" fill="#5800a7"/><circle cx="678.5" cy="12.3" fill="#c80037"/><circle cx="751.7" cy="17.0" fill="#ff0000"/><circle cx="289.3" cy="12.7" fill="#3800c7"/><circle cx="554.7" cy="18.4" fill="#a0005f"/><circle cx="343.7" cy="13.3" fill="#5500aa"/><circle cx="192.0" cy="17.0" fill="#0b00f4"/><circle cx="230.9" cy="22.1" fill="#1f00e0"/><circle cx="438.0" cy="19.9" fill="#5f00a0"/><circle cx="781.6" cy="19.9" fill="#ec0013"/><circle cx="637.4" cy="23.1" fill="#c4003b"/><circle cx="522.9" cy="16.0" fill="#90006f"/><circle cx="694.7" cy="21.3" fill="#df0020"/><circle cx="684.7" cy="17.1" fill="#c0003f"/><circle cx="822.9" cy="23.0" fill="#ff0000"/><circle cx="266.1" cy="16.3" fill="#2b00d4"/><circle cx="767.4" cy="19.0" fill="#e4001b"/><circle cx="551.5" cy="14.3" fill="#a0005f"/><circle cx="218.9" cy="20.4" fill="#3c00c3"/><circle cx="652.4" cy="16.3" fill="#d60029"/><circle cx="769.3" cy="21.0" fill="#e90016"/><circle cx="797.0" cy="16.7" fill="#da0025"/><circle cx="314.5" cy="23.2" fill="#3900c6"/><circle cx="455.5" cy="21.6" fill="#870078"/><circle cx="380.2" cy="23.5" fill="#4c00b3"/><circle cx="733.0" cy="17.9" fill="#f70008"/><circle cx="740.2" cy="21.0" fill="#eb0014"/><circle cx="375.3" cy="12.3" fill="#5600a9"/><circle cx="399.4" cy="16.2" fill="#65009a"/><circle cx="415.3" cy="23.1" fill="#3d00c2"/><circle cx="390.1" cy="12.7" fill="#660099"/><circle cx="820.4" cy="13.0" fill="#f60009"/><circle cx="418.5" cy="15.7" fill="#64009b"/><circle cx="766.5" cy="15.6" fill="#f2000d"/><circle cx="458.3" cy="17.6" fill="#670098"/><circle cx="275.8" cy="15.9" fill="#2800d7"/><circle cx="168.5" cy="12.0" fill="#0400fb"/><circle cx="374.0" cy="23.7" fill="#64009b"/><circle cx="487.9" cy="18.6" fill="#5c00a3"/><circle cx="415.3" cy="18.9" fill="#74008b"/><circle cx="601.2" cy="18.0" fill="#a80057"/><circle cx="651.4" cy="22.8" fill="#ad0052"/><circle cx="270.9" cy="22.0" fill="#2900d6"/><circle cx="208.7" cy="14.7" fill="#1600e9"/><circle cx="610.1" cy="18.1" fill="#9d0062"/><circle cx="633.7" cy="13.1" fill="#b5004a"/><circle cx="204.4" cy="20.2" fill="#2c00d3"/><circle cx="679.6" cy="21.5" fill="#dd0022"/><circle cx="334.3" cy="14.7" fill="#5c00a3"/><circle cx="679.2" cy="19.5" fill="#d1002e"/><circle cx="232.0" cy="18.7" fill="#1a00e5"/><circle cx="328.2" cy="19.0" fill="#4800b7"/><circle cx="746.6" cy="17.4" fill="#ed0012"/><circle cx="649.5" cy="17.1" fill="#a60059"/><circle cx="750.3" cy="15.4" fill="#ff0000"/><circle cx="195.5" cy="19.3" fill="#1e00e1"/><circle cx="765.7" cy="22.8" fill="#f70008"/><circle cx="516.3" cy="21.6" fill="#880077"/><circle cx="298.5" cy="23.5" fill="#2f00d0"/><circle cx="588.5" cy="20.2" fill="#8b0074"/><circle cx="472.6" cy="22.5" fill="#72008d"/><circle cx="563.1" cy="13.3" fill="#9b0064"/><circle cx="565.8" cy="17.0" fill="#8f0070"/><circle cx="189.4" cy="19.4" fill="#2300dc"/><circle cx="320.7" cy="18.3" fill="#4800b7"/><circle cx="722.7" cy="19.8" fill="#d1002e"/><circle cx="214.6" cy="23.1" fill="#2b00d4"/><circle cx="596.0" cy="19.0" fill="#a70058"/><circle cx="260.9" cy="21.5" fill="#3a00c5"/><circle cx="354.1" cy="20.9" fill="#5500aa"/><circle cx="671.1" cy="15.2" fill="#e0001f"/><circle cx="195.7" cy="15.7" fill="#2f00d0"/><circle cx="389.9" cy="22.9" fill="#4e00b1"/><circle cx="475.0" cy="20.6" fill="#780087"/><circle cx="679.4" cy="12.4" fill="#d80027"/><circle cx="742.1" cy="13.9" fill="#d5002a"/><circle cx="638.4" cy="22.3" fill="#bb0044"/><circle cx="301.9" cy="13.9" fill="#4200bd"/><circle cx="720.2" cy="16.9" fill="#cf0030"/><circle cx="646.1" cy="12.3" fill="#b5004a"/><circle cx="550.9" cy="19.6" fill="#9e0061"/><circle cx="596.4" cy="16.3" fill="#aa0055"/><circle cx="426.1" cy="21.8" fill="#8a0075"/><circle cx="286.7" cy="16.4" fill="#2c00d3"/><circle cx="777.1" cy="16.2" fill="#ff0000"/><circle cx="649.9" cy="15.9" fill="#c3003c"/><circle cx="613.0" cy="17.8" fill="#a3005c"/><circle cx="709.8" cy="13.5" fill="#f0000f"/><circle cx="302.3" cy="11.4" fill="#4700b8"/><circle cx="178.4" cy="15.8" fill="#0000ff"/><circle cx="654.0" cy="12.6" fill="#af0050"/><circle cx="567.3" cy="19.5" fill="#a2005d"/><circle cx="314.7" cy="14.0" fill="#3b00c4"/><circle cx="233.4" cy="22.7" fill="#3a00c5"/><circle cx="651.2" cy="20.9" fill="#ca0035"/><circle cx="284.8" cy="14.3" fill="#4d00b2"/><circle cx="285.6" cy="13.5" fill="#4f00b0"/><circle cx="574.0" cy="20.3" fill="#a2005d"/><circle cx="234.2" cy="17.4" fill="#3000cf"/><circle cx="271.0" cy="11.4" fill="#4000bf"/><circle cx="304.3" cy="11.9" fill="#4400bb"/><circle cx="316.0" cy="13.6" fill="#5200ad"/><circle cx="617.9" cy="15.9" fill="#c1003e"/><circle cx="687.2" cy="22.1" fill="#c3003c"/><circle cx="519.6" cy="14.8" fill="#8b0074"/><circle cx="604.5" cy="16.0" fill="#a60059"/><circle cx="702.3" cy="16.7" fill="#e4001b"/><circle cx="433.2" cy="12.4" fill="#5100ae"/><circle cx="186.9" cy="17.6" fill="#0000ff"/><circle cx="732.4" cy="19.0" fill="#ff0000"/><circle cx="499.9" cy="21.5" fill="#5f00a0"/><circle cx="809.6" cy="20.5" fill="#ff0000"/><circle cx="794.2" cy="18.0" fill="#f1000e"/><circle cx="194.2" cy="15.7" fill="#2000df"/><circle cx="471.8" cy="15.8" fill="#8a0075"/><circle cx="593.3" cy="13.6" fill="#8e0071"/><circle cx="400.8" cy="11.9" fill="#5e00a1"/><circle cx="412.4" cy="23.6" fill="#5b00a4"/><circle cx="623.7" cy="22.6" fill="#c60039"/><circle cx="714.8" cy="21.3" fill="#d4002b"/><circle cx="375.9" cy="21.2" fill="#5900a6"/><circle cx="209.7" cy="14.6" fill="#1400eb"/><circle cx="670.9" cy="22.0" fill="#da0025"/><circle cx="804.9" cy="15.6" fill="#fc0003"/><circle cx="259.8" cy="19.1" fill="#2e00d1"/><circle cx="524.4" cy="16.7" fill="#90006f"/><circle cx="245.0" cy="19.8" fill="#3300cc"/><circle cx="517.5" cy="14.3" fill="#870078"/><circle cx="659.8" cy="18.1" fill="#c0003f"/><circle cx="582.0" cy="11.9" fill="#be0041"/><circle cx="726.7" cy="23.3" fill="#bc0043"/><circle cx="564.3" cy="12.4" fill="#970068"/><circle cx="785.6" cy="14.4" fill="#e4001b"/><circle cx="743.5" cy="22.7" fill="#ff0000"/><circle cx="396.8" cy="13.5" fill="#5d00a2"/><circle cx="624.2" cy="11.8" fill="#b60049"/><circle cx="803.3" cy="15.8" fill="#fd0002"/><circle cx="444.1" cy="14.3" fill="#71008e"/><circle cx="518.6" cy="11.4" fill="#82007d"/><circle cx="316.1" cy="14.2" fill="#5600a9"/><circle cx="491.1" cy="20.9" fill="#91006e"/><circle cx="553.7" cy="11.8" fill="#b60049"/><circle cx="232.9" cy="21.8" fill="#4700b8"/><circle cx="602.2" cy="21.7" fill="#b2004d"/><circle cx="798.2" cy="16.4" fill="#ee0011"/><circle cx="820.6" cy="20.2" fill="#ff0000"/><circle cx="395.2" cy="19.2" fill="#670098"/><circle cx="706.6" cy="12.2" fill="#dd0022"/><circle cx="606.6" cy="22.8" fill="#b60049"/><circle cx="445.4" cy="14.8" fill="#7e0081"/><circle cx="512.3" cy="19.2" fill="#82007d"/><circle cx="343.3" cy="22.8" fill="#4f00b0"/><circle cx="377.6" cy="12.1" fill="#4c00b3"/><circle cx="305.3" cy="17.5" fill="#4900b6"/><circle cx="502.1" cy="22.8" fill="#81007e"/><circle cx="371.0" cy="22.2" fill="#5c00a3"/><circle cx="670.7" cy="19.1" fill="#d0002f"/><circle cx="326.4" cy="23.0" fill="#5f00a0"/><circle cx="788.7" cy="13.1" fill="#ff0000"/><circle cx="258.0" cy="15.9" fill="#5000af"/><circle cx="646.2" cy="16.7" fill="#bb0044"/><circle cx="436.5" cy="17.3" fill="#64009b"/><circle cx="333.7" cy="11.6" fill="#5a00a5"/><circle cx="368.8" cy="20.7" fill="#4800b7"/><circle cx="637.5" cy="19.2" fill="#ca0035"/><circle cx="497.3" cy="15.6" fill="#92006d"/><circle cx="501.5" cy="19.9" fill="#780087"/><circle cx="380.1" cy="22.5" fill="#4500ba"/><circle cx="266.4" cy="17.5" fill="#2c00d3"/><circle cx="269.6" cy="13.0" fill="#3200cd"/><circle cx="753.8" cy="14.2" fill="#d70028"/><circle cx="351.8" cy="15.7" fill="#5800a7"/><circle cx="568.6" cy="18.2" fill="#a3005c"/><circle cx="491.7" cy="11.9" fill="#7d0082"/><circle cx="381.4" cy="23.7" fill="#5300ac"/><circle cx="519.0" cy="14.1" fill="#9b0064"/><circle cx="689.6" cy="17.3" fill="#c0003f"/><circle cx="628.3" cy="22.7" fill="#b90046"/><circle cx="355.9" cy="21.1" fill="#670098"/><circle cx="216.1" cy="23.1" fill="#3500ca"/><circle cx="627.7" cy="17.5" fill="#bf0040"/><circle cx="281.6" cy="13.1" fill="#5d00a2"/><circle cx="785.9" cy="22.8" fill="#fb0004"/><circle cx="234.4" cy="22.4" fill="#1a00e5"/><circle cx="584.4" cy="20.4" fill="#aa0055"/><circle cx="635.3" cy="11.8" fill="#95006a"/><circle cx="585.7" cy="19.5" fill="#94006b"/><circle cx="182.4" cy="20.6" fill="#1b00e4"/><circle cx="508.3" cy="11.3" fill="#990066"/><circle cx="547.1" cy="19.6" fill="#8d0072"/><circle cx="543.7" cy="17.5" fill="#b3004c"/><circle cx="529.3" cy="11.5" fill="#8a0075"/><circle cx="533.6" cy="19.1" fill="#960069"/><circle cx="771.1" cy="20.5" fill="#e80017"/><circle cx="612.9" cy="23.3" fill="#aa0055"/><circle cx="559.4" cy="12.1" fill="#aa0055"/><circle cx="429.7" cy="14.2" fill="#5d00a2"/><circle cx="551.6" cy="17.7" fill="#9f0060"/><circle cx="676.7" cy="16.4" fill="#cb0034"/><circle cx="755.1" cy="13.2" fill="#e80017"/><circle cx="756.8" cy="11.3" fill="#ec0013"/><circle cx="272.5" cy="18.1" fill="#4000bf"/><circle cx="223.2" cy="12.7" fill="#3000cf"/><circle cx="433.1" cy="20.6" fill="#81007e"/><circle cx="382.2" cy="15.0" fill="#73008c"/><circle cx="748.0" cy="21.7" fill="#e5001a"/><circle cx="591.5" cy="22.3" fill="#b1004e"/><circle cx="783.7" cy="12.8" fill="#e90016"/><circle cx="712.8" cy="16.9" fill="#f60009"/><circle cx="232.9" cy="15.5" fill="#3400cb"/><circle cx="435.5" cy="21.1" fill="#62009d"/><circle cx="243.1" cy="14.9" fill="#2400db"/><circle cx="635.7" cy="20.7" fill="#a80057"/><circle cx="296.1" cy="16.3" fill="#4300bc"/><circle cx="632.8" cy="12.2" fill="#a0005f"/><circle cx="732.1" cy="21.5" fill="#d70028"/><circle cx="481.7" cy="12.0" fill="#7b0084"/><circle cx="391.8" cy="12.6" fill="#80007f"/><circle cx="509.9" cy="11.3" fill="#780087"/><circle cx="257.3" cy="21.6" fill="#2000df"/><circle cx="743.6" cy="12.0" fill="#d5002a"/><circle cx="213.7" cy="11.8" fill="#2600d9"/><circle cx="777.7" cy="14.4" fill="#d70028"/><circle cx="181.5" cy="23.4" fill="#1900e6"/><circle cx="729.8" cy="12.2" fill="#e90016"/><circle cx="277.6" cy="22.6" fill="#4600b9"/><circle cx="765.3" cy="16.5" fill="#ff0000"/><circle cx="430.5" cy="17.6" fill="#70008f"/><circle cx="782.2" cy="14.6" fill="#f70008"/><circle cx="269.1" cy="18.5" fill="#3000cf"/><circle cx="528.8" cy="12.9" fill="#9b0064"/><circle cx="390.0" cy="19.4" fill="#62009d"/><circle cx="691.3" cy="21.4" fill="#d2002d"/><circle cx="531.1" cy="23.4" fill="#83007c"/><circle cx="476.9" cy="23.4" fill="#670098"/><circle cx="335.0" cy="22.3" fill="#6c0093"/><circle cx="316.5" cy="16.4" fill="#3800c7"/><circle cx="656.1" cy="19.7" fill="#cc0033"/><circle cx="177.3" cy="19.1" fill="#0000ff"/><circle cx="720.9" cy="11.9" fill="#cc0033"/><circle cx="809.1" cy="21.4" fill="#eb0014"/><circle cx="286.0" cy="17.6" fill="#2f00d0"/><circle cx="387.7" cy="20.5" fill="#6c0093"/><circle cx="300.7" cy="23.4" fill="#3100ce"/><circle cx="699.4" cy="21.1" fill="#be0041"/><circle cx="801.7" cy="16.3" fill="#dc0023"/><circle cx="366.9" cy="12.3" fill="#5100ae"/><circle cx="647.2" cy="12.4" fill="#dd0022"/><circle cx="402.3" cy="12.4" fill="#660099"/><circle cx="803.3" cy="23.5" fill="#ff0000"/><circle cx="411.7" cy="18.5" fill="#74008b"/><circle cx="809.0" cy="23.1" fill="#f0000f"/><circle cx="593.0" cy="11.9" fill="#ad0052"/><circle cx="307.7" cy="20.0" fill="#4c00b3"/><circle cx="637.6" cy="14.3" fill="#b5004a"/><circle cx="603.8" cy="23.5" fill="#a90056"/><circle cx="646.5" cy="12.8" fill="#ca0035"/><circle cx="530.7" cy="23.1" fill="#8e0071"/><circle cx="769.2" cy="20.1" fill="#f60009"/><circle cx="211.0" cy="15.7" fill="#2900d6"/><circle cx="324.0" cy="12.8" fill="#4800b7"/><circle cx="365.3" cy="11.5" fill="#4500ba"/><circle cx="350.3" cy="21.2" fill="#3b00c4"/><circle cx="544.2" cy="20.6" fill="#890076"/><circle cx="431.4" cy="15.5" fill="#62009d"/><circle cx="571.6" cy="21.6" fill="#bb0044"/><circle cx="642.2" cy="19.2" fill="#a90056"/><circle cx="735.5" cy="19.3" fill="#e5001a"/><circle cx="755.7" cy="13.9" fill="#e2001d"/><circle cx="701.6" cy="21.5" fill="#c5003a"/><circle cx="208.3" cy="19.5" fill="#2a00d5"/><circle cx="806.2" cy="13.3" fill="#ff0000"/><circle cx="764.0" cy="16.5" fill="#e1001e"/><circle cx="215.0" cy="16.5" fill="#3300cc"/><circle cx="381.7" cy="20.7" fill="#4e00b1"/><circle cx="639.3" cy="15.6" fill="#c2003d"/><circle cx="333.1" cy="11.4" fill="#5400ab"/><circle cx="695.5" cy="23.2" fill="#cc0033"/><circle cx="527.7" cy="17.4" fill="#93006c"/><circle cx="294.7" cy="18.5" fill="#4800b7"/><circle cx="235.2" cy="15.4" fill="#1a00e5"/><circle cx="208.3" cy="21.4" fill="#0f00f0"/><circle cx="498.0" cy="21.6" fill="#890076"/><circle cx="826.2" cy="20.7" fill="#ff0000"/><circle cx="279.5" cy="23.2" fill="#3e00c1"/><circle cx="386.8" cy="17.5" fill="#73008c"/><circle cx="729.0" cy="19.6" fill="#de0021"/><circle cx="792.8" cy="19.1" fill="#ee0011"/><circle cx="364.0" cy="16.7" fill="#5600a9"/><circle cx="246.6" cy="13.5" fill="#4600b9"/><circle cx="683.0" cy="12.9" fill="#d2002d"/><circle cx="522.0" cy="20.0" fill="#94006b"/><circle cx="375.2" cy="16.1" fill="#5200ad"/><circle cx="683.0" cy="22.3" fill="#d1002e"/><circle cx="718.1" cy="19.3" fill="#d0002f"/><circle cx="314.6" cy="16.2" fill="#4000bf"/><circle cx="542.2" cy="18.8" fill="#970068"/><circle cx="427.3" cy="15.2" fill="#63009c"/><circle cx="318.5" cy="23.5" fill="#4400bb"/><circle cx="708.8" cy="12.6" fill="#c70038"/><circle cx="807.1" cy="17.0" fill="#ff0000"/><circle cx="464.0" cy="23.7" fill="#84007b"/><circle cx="222.4" cy="18.9" fill="#3e00c1"/><circle cx="744.4" cy="18.7" fill="#d70028"/><circle cx="366.2" cy="21.7" fill="#5800a7"/><circle cx="358.3" cy="17.5" fill="#5d00a2"/><circle cx="242.3" cy="19.9" fill="#3f00c0"/><circle cx="488.7" cy="18.4" fill="#9d0062"/><circle cx="404.0" cy="18.3" fill="#61009e"/><circle cx="554.9" cy="23.2" fill="#b1004e"/><circle cx="326.0" cy="13.4" fill="#4e00b1"/><circle cx="332.9" cy="23.7" fill="#5100ae"/><circle cx="272.7" cy="19.9" fill="#1d00e2"/><circle cx="438.3" cy="22.0" fill="#780087"/><circle cx="351.0" cy="18.8" fill="#4d00b2"/><circle cx="178.2" cy="22.7" fill="#1e00e1"/><circle cx="614.5" cy="21.7" fill="#d3002c"/><circle cx="757.7" cy="12.4" fill="#df0020"/><circle cx="577.2" cy="23.4" fill="#980067"/><circle cx="436.1" cy="13.7" fill="#790086"/><circle cx="801.8" cy="17.3" fill="#ec0013"/><circle cx="593.5" cy="21.3" fill="#980067"/><circle cx="527.3" cy="22.8" fill="#670098"/><circle cx="733.8" cy="19.6" fill="#da0025"/><circle cx="515.2" cy="12.2" fill="#7c0083"/><circle cx="209.9" cy="20.9" fill="#2300dc"/><circle cx="296.6" cy="19.4" fill="#4900b6"/><circle cx="660.3" cy="13.9" fill="#d3002c"/><circle cx="586.8" cy="11.5" fill="#ac0053"/><circle cx="316.4" cy="12.7" fill="#3100ce"/><circle cx="488.7" cy="21.2" fill="#92006d"/><circle cx="758.2" cy="20.5" fill="#d4002b"/><circle cx="697.8" cy="19.5" fill="#fd0002"/><circle cx="301.8" cy="12.7" fill="#3900c6"/><circle cx="627.6" cy="18.0" fill="#c0003f"/><circle cx="192.2" cy="12.6" fill="#2700d8"/><circle cx="719.4" cy="19.0" fill="#c1003e"/><circle cx="477.4" cy="12.3" fill="#6a0095"/><circle cx="465.0" cy="13.6" fill="#780087"/><circle cx="528.4" cy="16.4" fill="#a4005b"/><circle cx="734.8" cy="17.2" fill="#ff0000"/><circle cx="381.4" cy="13.1" fill="#5300ac"/><circle cx="619.4" cy="15.4" fill="#be0041"/><circle cx="750.4" cy="17.7" fill="#db0024"/><circle cx="652.7" cy="17.5" fill="#c0003f"/><circle cx="421.1" cy="16.5" fill="#6f0090"/><circle cx="561.6" cy="12.0" fill="#93006c"/><circle cx="699.3" cy="18.2" fill="#d2002d"/><circle cx="465.8" cy="22.0" fill="#8d0072"/><circle cx="198.3" cy="17.7" fill="#4400bb"/><circle cx="498.3" cy="13.3" fill="#7d0082"/><circle cx="702.8" cy="12.6" fill="#bd0042"/><circle cx="323.4" cy="20.1" fill="#3f00c0"/><circle cx="795.8" cy="20.5" fill="#f60009"/><circle cx="492.5" cy="22.1" fill="#a4005b"/><circle cx="493.0" cy="19.0" fill="#8c0073"/><circle cx="293.8" cy="15.3" fill="#3100ce"/><circle cx="592.8" cy="11.7" fill="#bf0040"/><circle cx="288.0" cy="13.0" fill="#3b00c4"/><circle cx="608.8" cy="16.1" fill="#b1004e"/><circle cx="810.7" cy="20.1" fill="#ed0012"/><circle cx="427.7" cy="18.1" fill="#5d00a2"/><circle cx="594.3" cy="20.4" fill="#a5005a"/><circle cx="605.2" cy="14.4" fill="#ad0052"/><circle cx="283.4" cy="14.9" fill="#3b00c4"/><circle cx="432.9" cy="21.2" fill="#660099"/><circle cx="540.7" cy="23.4" fill="#b70048"/><circle cx="204.7" cy="21.1" fill="#2d00d2"/><circle cx="642.2" cy="17.6" fill="#c5003a"/><circle cx="506.3" cy="17.6" fill="#990066"/><circle cx="514.6" cy="18.1" fill="#ab0054"/><circle cx="697.6" cy="19.7" fill="#d2002d"/><circle cx="779.8" cy="22.2" fill="#dc0023"/><circle cx="533.0" cy="16.4" fill="#8c0073"/><circle cx="761.0" cy="11.8" fill="#f70008"/><circle cx="510.9" cy="20.8" fill="#91006e"/><circle cx="254.8" cy="12.6" fill="#2300dc"/><circle cx="442.7" cy="22.2" fill="#680097"/><circle cx="596.2" cy="15.7" fill="#8e0071"/><circle cx="655.0" cy="17.0" fill="#e3001c"/><circle cx="615.9" cy="13.2" fill="#d1002e"/><circle cx="457.5" cy="15.5" fill="#5e00a1"/><circle cx="297.0" cy="22.7" fill="#4e00b1"/><circle cx="583.4" cy="22.0" fill="#ae0051"/><circle cx="576.6" cy="17.6" fill="#b70048"/><circle cx="339.9" cy="17.2" fill="#3f00c0"/><circle cx="270.3" cy="13.7" fill="#1900e6"/><circle cx="601.2" cy="22.5" fill="#b60049"/><circle cx="418.1" cy="16.4" fill="#7c0083"/><circle cx="626.8" cy="17.0" fill="#d70028"/><circle cx="507.8" cy="13.2" fill="#990066"/><circle cx="480.4" cy="14.0" fill="#780087"/><circle cx="603.3" cy="17.0" fill="#a0005f"/><circle cx="371.2" cy="20.6" fill="#71008e"/><circle cx="670.6" cy="17.4" fill="#d60029"/><circle cx="189.2" cy="13.6" fill="#2800d7"/><circle cx="674.9" cy="11.7" fill="#ca0035"/><circle cx="612.9" cy="17.2" fill="#a2005d"/><circle cx="225.3" cy="17.2" fill="#3400cb"/><circle cx="376.0" cy="15.5" fill="#61009e"/><circle cx="246.6" cy="21.7" fill="#3b00c4"/><circle cx="811.7" cy="19.4" fill="#ff0000"/><circle cx="363.5" cy="12.4" fill="#60009f"/><circle cx="763.0" cy="12.1" fill="#e60019"/><circle cx="698.8" cy="23.4" fill="#d2002d"/><circle cx="361.6" cy="12.0" fill="#5b00a4"/><circle cx="484.5" cy="19.2" fill="#70008f"/><circle cx="733.3" cy="20.2" fill="#e0001f"/><circle cx="530.6" cy="23.7" fill="#7d0082"/><circle cx="613.8" cy="23.2" fill="#c70038"/><circle cx="632.8" cy="11.4" fill="#c80037"/><circle cx="647.9" cy="15.4" fill="#cd0032"/><circle cx="619.1" cy="16.3" fill="#bf0040"/><circle cx="525.3" cy="23.2" fill="#93006c"/><circle cx="345.9" cy="18.3" fill="#4400bb"/><circle cx="568.3" cy="22.2" fill="#a70058"/><circle cx="449.2" cy="15.3" fill="#770088"/><circle cx="345.8" cy="14.2" fill="#63009c"/><circle cx="461.9" cy="21.3" fill="#85007a"/><circle cx="568.9" cy="12.2" fill="#9b0064"/><circle cx="175.9" cy="19.8" fill="#1400eb"/><circle cx="563.8" cy="23.1" fill="#8f0070"/><circle cx="580.6" cy="11.4" fill="#b3004c"/><circle cx="770.7" cy="19.9" fill="#f4000b"/><circle cx="323.9" cy="16.1" fill="#5300ac"/><circle cx="812.3" cy="14.0" fill="#e2001d"/><circle cx="467.7" cy="12.8" fill="#71008e"/><circle cx="525.4" cy="14.6" fill="#82007d"/><circle cx="702.5" cy="20.1" fill="#cd0032"/><circle cx="823.9" cy="18.4" fill="#ff0000"/><circle cx="430.3" cy="17.8" fill="#660099"/><circle cx="445.6" cy="17.3" fill="#74008b"/><circle cx="265.4" cy="14.7" fill="#3d00c2"/><circle cx="769.2" cy="13.8" fill="#e4001b"/><circle cx="568.8" cy="12.7" fill="#970068"/><circle cx="721.3" cy="21.4" fill="#dd0022"/><circle cx="371.3" cy="19.6" fill="#5400ab"/><circle cx="366.2" cy="15.3" fill="#6a0095"/><circle cx="807.5" cy="17.5" fill="#ff0000"/><circle cx="353.4" cy="12.7" fill="#64009b"/><circle cx="431.2" cy="14.9" fill="#6b0094"/><circle cx="380.1" cy="19.3" fill="#4c00b3"/><circle cx="459.0" cy="23.5" fill="#670098"/><circle cx="431.2" cy="14.3" fill="#5a00a5"/><circle cx="627.3" cy="22.0" fill="#c2003d"/><circle cx="432.4" cy="18.1" fill="#6c0093"/><circle cx="777.4" cy="22.2" fill="#ea0015"/><circle cx="723.9" cy="16.9" fill="#e3001c"/><circle cx="629.0" cy="23.4" fill="#a5005a"/><circle cx="449.9" cy="15.1" fill="#80007f"/><circle cx="459.5" cy="16.6" fill="#870078"/><circle cx="450.0" cy="23.1" fill="#64009b"/><circle cx="416.6" cy="15.8" fill="#8b0074"/><circle cx="514.1" cy="13.3" fill="#9a0065"/><circle cx="501.4" cy="17.2" fill="#81007e"/><circle cx="262.8" cy="19.3" fill="#4200bd"/><circle cx="221.8" cy="23.1" fill="#3500ca"/><circle cx="332.8" cy="12.8" fill="#5c00a3"/><circle cx="703.2" cy="12.9" fill="#e5001a"/><circle cx="312.5" cy="13.2" fill="#5200ad"/><circle cx="399.4" cy="14.4" fill="#5500aa"/><circle cx="327.2" cy="14.8" fill="#5600a9"/><circle cx="592.8" cy="13.6" fill="#b0004f"/><circle cx="246.7" cy="13.5" fill="#3400cb"/><circle cx="531.0" cy="16.3" fill="#9f0060"/><circle cx="554.9" cy="23.4" fill="#a0005f"/><circle cx="422.3" cy="22.1" fill="#5900a6"/><circle cx="315.9" cy="18.5" fill="#4d00b2"/><circle cx="754.2" cy="18.8" fill="#e3001c"/><circle cx="231.5" cy="17.4" fill="#4300bc"/><circle cx="398.6" cy="17.4" fill="#5b00a4"/><circle cx="510.5" cy="12.7" fill="#94006b"/><circle cx="278.7" cy="21.9" fill="#2300dc"/><circle cx="752.0" cy="20.9" fill="#e60019"/><circle cx="430.4" cy="21.1" fill="#7f0080"/><circle cx="771.6" cy="12.3" fill="#d5002a"/><circle cx="416.6" cy="17.2" fill="#65009a"/><circle cx="773.6" cy="20.6" fill="#fe0001"/><circle cx="662.0" cy="12.2" fill="#a1005e"/><circle cx="815.4" cy="17.5" fill="#ff0000"/><circle cx="712.3" cy="22.6" fill="#de0021"/><circle cx="577.5" cy="12.2" fill="#b5004a"/><circle cx="605.2" cy="21.4" fill="#cb0034"/><circle cx="560.3" cy="20.8" fill="#94006b"/><circle cx="376.8" cy="17.0" fill="#4700b8"/><circle cx="480.1" cy="18.6" fill="#85007a"/><circle cx="680.7" cy="13.3" fill="#c3003c"/><circle cx="349.8" cy="16.8" fill="#5d00a2"/><circle cx="298.0" cy="13.1" fill="#5600a9"/><circle cx="548.0" cy="21.6" fill="#8b0074"/><circle cx="493.6" cy="21.4" fill="#7c0083"/><circle cx="319.8" cy="12.3" fill="#4900b6"/><circle cx="542.2" cy="13.4" fill="#9f0060"/><circle cx="382.6" cy="14.7" fill="#670098"/><circle cx="659.3" cy="20.0" fill="#c0003f"/><circle cx="489.6" cy="19.8" fill="#9c0063"/><circle cx="302.5" cy="16.2" fill="#4000bf"/><circle cx="593.3" cy="14.8" fill="#ba0045"/><circle cx="508.2" cy="22.8" fill="#9e0061"/><circle cx="551.6" cy="18.2" fill="#980067"/><circle cx="781.9" cy="12.1" fill="#e80017"/><circle cx="370.4" cy="14.5" fill="#5200ad"/><circle cx="748.3" cy="13.2" fill="#f80007"/><circle cx="647.3" cy="13.1" fill="#c80037"/><circle cx="257.5" cy="18.2" fill="#2600d9"/><circle cx="259.7" cy="16.9" fill="#2500da"/><circle cx="338.7" cy="12.0" fill="#2e00d1"/><circle cx="776.5" cy="13.7" fill="#db0024"/><circle cx="579.9" cy="18.4" fill="#960069"/><circle cx="449.6" cy="17.8" fill="#7d0082"/><circle cx="278.1" cy="19.9" fill="#2400db"/><circle cx="468.1" cy="11.4" fill="#75008a"/><circle cx="344.2" cy="17.4" fill="#4600b9"/><circle cx="369.1" cy="20.6" fill="#4b00b4"/><circle cx="311.7" cy="23.3" fill="#4100be"/><circle cx="332.0" cy="15.1" fill="#5800a7"/><circle cx="385.4" cy="19.1" fill="#5000af"/><circle cx="537.9" cy="21.8" fill="#92006d"/><circle cx="210.2" cy="15.9" fill="#1b00e4"/><circle cx="455.6" cy="23.0" fill="#75008a"/><circle cx="194.0" cy="18.6" fill="#1900e6"/><circle cx="284.3" cy="20.9" fill="#5200ad"/><circle cx="292.1" cy="22.3" fill="#3300cc"/><circle cx="449.2" cy="22.3" fill="#65009a"/><circle cx="715.7" cy="19.3" fill="#d80027"/><circle cx="219.2" cy="16.2" fill="#1200ed"/><circle cx="482.4" cy="15.9" fill="#93006c"/><circle cx="728.8" cy="23.3" fill="#c90036"/><circle cx="229.3" cy="19.2" fill="#0d00f2"/><circle cx="313.6" cy="14.8" fill="#4000bf"/><circle cx="805.2" cy="16.9" fill="#ff0000"/><circle cx="540.0" cy="22.4" fill="#8d0072"/><circle cx="683.1" cy="13.5" fill="#d70028"/><circle cx="581.0" cy="17.2" fill="#a2005d"/><circle cx="668.9" cy="19.4" fill="#d0002f"/><circle cx="738.6" cy="19.6" fill="#e80017"/><circle cx="780.5" cy="22.7" fill="#fd0002"/><circle cx="538.2" cy="21.1" fill="#a70058"/><circle cx="514.0" cy="11.7" fill="#7a0085"/><circle cx="306.9" cy="11.5" fill="#4700b8"/><circle cx="522.3" cy="16.6" fill="#92006d"/><circle cx="241.0" cy="19.6" fill="#1b00e4"/><circle cx="279.6" cy="22.0" fill="#4d00b2"/><circle cx="471.7" cy="18.5" fill="#84007b"/><circle cx="412.5" cy="18.5" fill="#5800a7"/><circle cx="628.4" cy="16.4" fill="#a60059"/><circle cx="452.3" cy="22.7" fill="#790086"/><circle cx="556.6" cy="13.4" fill="#b0004f"/><circle cx="569.3" cy="12.2" fill="#c0003f"/><circle cx="437.3" cy="15.8" fill="#7a0085"/><circle cx="400.7" cy="22.2" fill="#770088"/><circle cx="796.6" cy="17.1" fill="#ff0000"/><circle cx="688.1" cy="13.2" fill="#b90046"/><circle cx="805.2" cy="14.9" fill="#d3002c"/><circle cx="745.7" cy="12.6" fill="#f0000f"/><circle cx="713.1" cy="15.6" fill="#e70018"/><circle cx="710.9" cy="19.1" fill="#cf0030"/><circle cx="266.6" cy="18.9" fill="#2100de"/><circle cx="333.6" cy="20.1" fill="#4300bc"/><circle cx="569.7" cy="16.2" fill="#9e0061"/><circle cx="562.4" cy="19.8" fill="#91006e"/><circle cx="719.0" cy="14.8" fill="#c70038"/><circle cx="754.1" cy="19.0" fill="#e90016"/><circle cx="581.9" cy="14.2" fill="#990066"/><circle cx="180.4" cy="17.7" fill="#1000ef"/><circle cx="572.9" cy="22.8" fill="#9e0061"/><circle cx="752.1" cy="23.6" fill="#ce0031"/><circle cx="624.9" cy="15.6" fill="#bd0042"/><circle cx="625.9" cy="14.6" fill="#b4004b"/><circle cx="600.3" cy="12.0" fill="#9d0062"/><circle cx="649.5" cy="22.6" fill="#cd0032"/><circle cx="678.4" cy="12.9" fill="#d2002d"/><circle cx="298.1" cy="15.5" fill="#3500ca"/><circle cx="380.9" cy="12.5" fill="#5000af"/><circle cx="375.6" cy="11.4" fill="#5400ab"/><circle cx="472.9" cy="21.0" fill="#7b0084"/><circle cx="582.3" cy="14.7" fill="#a2005d"/><circle cx="269.7" cy="12.2" fill="#3e00c1"/><circle cx="457.9" cy="16.5" fill="#9a0065"/><circle cx="402.9" cy="19.0" fill="#670098"/><circle cx="220.1" cy="19.2" fill="#0800f7"/><circle cx="399.9" cy="12.7" fill="#6d0092"/><circle cx="457.3" cy="11.9" fill="#7d0082"/><circle cx="494.1" cy="12.6" fill="#8b0074"/><circle cx="635.4" cy="23.2" fill="#bb0044"/><circle cx="577.6" cy="23.5" fill="#91006e"/><circle cx="319.3" cy="21.0" fill="#4400bb"/><circle cx="825.3" cy="11.3" fill="#f70008"/><circle cx="351.1" cy="23.5" fill="#60009f"/><circle cx="698.9" cy="16.4" fill="#ab0054"/><circle cx="252.0" cy="14.6" fill="#2a00d5"/><circle cx="178.6" cy="16.0" fill="#0300fc"/><circle cx="480.6" cy="12.4" fill="#8d0072"/><circle cx="615.6" cy="18.1" fill="#b0004f"/><circle cx="646.2" cy="23.0" fill="#b80047"/><circle cx="202.9" cy="21.2" fill="#0400fb"/><circle cx="433.4" cy="15.5" fill="#64009b"/><circle cx="556.4" cy="19.1" fill="#95006a"/><circle cx="451.4" cy="21.7" fill="#880077"/><circle cx="225.1" cy="12.1" fill="#0e00f1"/><circle cx="568.1" cy="14.0" fill="#a3005c"/><circle cx="670.7" cy="18.3" fill="#e0001f"/><circle cx="648.0" cy="16.3" fill="#c60039"/><circle cx="281.8" cy="12.4" fill="#4200bd"/><circle cx="437.9" cy="11.7" fill="#760089"/><circle cx="171.5" cy="13.3" fill="#2600d9"/><circle cx="257.6" cy="15.3" fill="#2c00d3"/><circle cx="608.4" cy="22.1" fill="#bc0043"/><circle cx="750.8" cy="19.5" fill="#e1001e"/><circle cx="194.9" cy="23.3" fill="#2500da"/><circle cx="641.0" cy="15.6" fill="#ae0051"/><circle cx="238.4" cy="13.8" fill="#3100ce"/><circle cx="575.8" cy="12.3" fill="#9e0061"/><circle cx="683.2" cy="14.4" fill="#d70028"/><circle cx="191.0" cy="20.9" fill="#2000df"/><circle cx="619.3" cy="22.3" fill="#ca0035"/><circle cx="724.8" cy="23.1" fill="#c70038"/><circle cx="247.3" cy="20.9" fill="#4c00b3"/><circle cx="580.4" cy="19.4" fill="#ca0035"/><circle cx="649.4" cy="18.0" fill="#ae0051"/><circle cx="273.3" cy="21.1" fill="#4c00b3"/><circle cx="527.9" cy="14.6" fill="#9a0065"/><circle cx="294.1" cy="14.4" fill="#3e00c1"/><circle cx="240.8" cy="22.4" fill="#3000cf"/><circle cx="801.4" cy="18.5" fill="#f80007"/><circle cx="761.6" cy="14.3" fill="#f1000e"/><circle cx="813.4" cy="17.0" fill="#ff0000"/><circle cx="632.7" cy="11.3" fill="#cd0032"/><circle cx="244.8" cy="14.6" fill="#3600c9"/><circle cx="825.7" cy="21.8" fill="#ff0000"/><circle cx="636.2" cy="21.8" fill="#be0041"/><circle cx="373.7" cy="14.6" fill="#65009a"/><circle cx="446.7" cy="20.8" fill="#9f0060"/><circle cx="448.5" cy="15.4" fill="#770088"/><circle cx="601.6" cy="23.3" fill="#9b0064"/><circle cx="592.4" cy="18.0" fill="#a4005b"/><circle cx="496.4" cy="16.1" fill="#6c0093"/><circle cx="343.7" cy="22.8" fill="#5000af"/><circle cx="364.1" cy="16.3" fill="#5f00a0"/><circle cx="332.4" cy="12.4" fill="#5500aa"/><circle cx="545.6" cy="23.6" fill="#83007c"/><circle cx="617.7" cy="17.9" fill="#a1005e"/><circle cx="840.0" cy="12.8" fill="#ff0000"/><circle cx="841.0" cy="12.9" fill="#ff0000"/><circle cx="835.0" cy="14.3" fill="#f70008"/><circle cx="831.8" cy="18.4" fill="#f3000c"/><circle cx="833.4" cy="12.4" fill="#fb0004"/><circle cx="824.5" cy="15.2" fill="#f90006"/><circle cx="830.2" cy="22.7" fill="#ff0000"/><circle cx="828.1" cy="19.7" fill="#ff0000"/><circle cx="828.0" cy="12.5" fill="#ff0000"/><circle cx="839.6" cy="20.2" fill="#ff0000"/><circle cx="836.1" cy="15.5" fill="#f80007"/><circle cx="837.7" cy="16.4" fill="#e60019"/><circle cx="832.0" cy="12.1" fill="#f4000b"/><circle cx="830.3" cy="18.9" fill="#ee0011"/><circle cx="825.7" cy="20.6" fill="#ff0000"/><circle cx="824.0" cy="13.2" fill="#ff0000"/><circle cx="826.4" cy="20.0" fill="#d90026"/><circle cx="148.4" cy="71.9" fill="#2ca02c"/><circle cx="106.0" cy="73.0" fill="#2ca02c"/><circle cx="1.5" cy="72.0" fill="#2ca02c"/><circle cx="60.6" cy="74.8" fill="#2ca02c"/><circle cx="19.7" cy="71.8" fill="#2ca02c"/><circle cx="-5.8" cy="68.3" fill="#2ca02c"/><circle cx="71.6" cy="72.0" fill="#2ca02c"/><circle cx="132.7" cy="69.2" fill="#2ca02c"/><circle cx="72.5" cy="74.1" fill="#2ca02c"/><circle cx="230.3" cy="74.9" fill="#2ca02c"/><circle cx="146.7" cy="76.3" fill="#2ca02c"/><circle cx="-1.0" cy="71.3" fill="#2ca02c"/><circle cx="194.2" cy="72.2" fill="#2ca02c"/><circle cx="67.3" cy="77.3" fill="#2ca02c"/><circle cx="102.1" cy="68.4" fill="#2ca02c"/><circle cx="57.4" cy="74.9" fill="#2ca02c"/><circle cx="61.7" cy="77.3" fill="#2ca02c"/><circle cx="74.7" cy="71.5" fill="#2ca02c"/><circle cx="208.8" cy="76.2" fill="#2ca02c"/><circle cx="102.2" cy="74.4" fill="#2ca02c"/><circle cx="111.8" cy="69.1" fill="#2ca02c"/><circle cx="86.8" cy="77.2" fill="#2ca02c"/><circle cx="232.6" cy="73.4" fill="#2ca02c"/><circle cx="206.9" cy="75.6" fill="#2ca02c"/><circle cx="13.5" cy="78.0" fill="#2ca02c"/><circle cx="222.5" cy="71.8" fill="#2ca02c"/><circle cx="98.5" cy="68.0" fill="#2ca02c"/><circle cx="217.9" cy="71.3" fill="#2ca02c"/><circle cx="85.4" cy="70.6" fill="#2ca02c"/><circle cx="158.3" cy="72.3" fill="#2ca02c"/><circle cx="156.3" cy="71.3" fill="#2ca02c"/><circle cx="90.6" cy="74.5" fill="#2ca02c"/><circle cx="21.3" cy="69.4" fill="#2ca02c"/><circle cx="220.9" cy="72.5" fill="#2ca02c"/><circle cx="4.1" cy="76.5" fill="#2ca02c"/><circle cx="143.5" cy="72.6" fill="#2ca02c"/><circle cx="39.1" cy="69.9" fill="#2ca02c"/><circle cx="178.9" cy="70.4" fill="#2ca02c"/><circle cx="234.9" cy="77.8" fill="#2ca02c"/><circle cx="196.6" cy="75.8" fill="#2ca02c"/><circle cx="154.2" cy="77.0" fill="#2ca02c"/><circle cx="109.8" cy="70.0" fill="#2ca02c"/><circle cx="185.8" cy="69.8" fill="#2ca02c"/><circle cx="35.0" cy="72.8" fill="#2ca02c"/><circle cx="150.7" cy="77.7" fill="#2ca02c"/><circle cx="62.3" cy="70.5" fill="#2ca02c"/><circle cx="-3.8" cy="77.3" fill="#2ca02c"/><circle cx="103.2" cy="71.2" fill="#2ca02c"/><circle cx="21.0" cy="69.4" fill="#2ca02c"/><circle cx="163.5" cy="71.8" fill="#2ca02c"/><circle cx="87.0" cy="74.3" fill="#2ca02c"/><circle cx="76.9" cy="76.9" fill="#2ca02c"/><circle cx="108.6" cy="69.7" fill="#2ca02c"/><circle cx="111.3" cy="70.5" fill="#2ca02c"/><circle cx="187.9" cy="75.6" fill="#2ca02c"/><circle cx="30.7" cy="75.9" fill="#2ca02c"/><circle cx="80.3" cy="77.3" fill="#2ca02c"/><circle cx="139.0" cy="69.6" fill="#2ca02c"/><circle cx="199.8" cy="72.1" fill="#2ca02c"/><circle cx="151.5" cy="77.8" fill="#2ca02c"/><circle cx="162.5" cy="77.3" fill="#2ca02c"/><circle cx="16.2" cy="78.0" fill="#2ca02c"/><circle cx="106.6" cy="78.7" fill="#2ca02c"/><circle cx="77.3" cy="69.8" fill="#2ca02c"/><circle cx="159.0" cy="77.4" fill="#2ca02c"/><circle cx="52.2" cy="73.9" fill="#2ca02c"/><circle cx="0.1" cy="75.8" fill="#2ca02c"/><circle cx="26.8" cy="71.8" fill="#2ca02c"/><circle cx="146.3" cy="68.8" fill="#2ca02c"/><circle cx="84.3" cy="70.4" fill="#2ca02c"/><circle cx="12.9" cy="78.5" fill="#2ca02c"/><circle cx="9.9" cy="71.5" fill="#2ca02c"/><circle cx="20.3" cy="68.1" fill="#2ca02c"/><circle cx="30.9" cy="75.5" fill="#2ca02c"/><circle cx="200.6" cy="67.2" fill="#2ca02c"/><circle cx="134.9" cy="70.6" fill="#2ca02c"/><circle cx="90.0" cy="77.3" fill="#2ca02c"/><circle cx="148.0" cy="70.9" fill="#2ca02c"/><circle cx="88.5" cy="76.0" fill="#2ca02c"/><circle cx="141.0" cy="78.1" fill="#2ca02c"/><circle cx="171.3" cy="69.7" fill="#2ca02c"/><circle cx="173.2" cy="71.6" fill="#2ca02c"/><circle cx="162.3" cy="78.6" fill="#2ca02c"/><circle cx="172.6" cy="74.3" fill="#2ca02c"/><circle cx="65.5" cy="71.0" fill="#2ca02c"/><circle cx="107.6" cy="71.9" fill="#2ca02c"/><circle cx="201.9" cy="75.3" fill="#2ca02c"/><circle cx="11.9" cy="74.1" fill="#2ca02c"/><circle cx="219.8" cy="74.8" fill="#2ca02c"/><circle cx="139.5" cy="76.9" fill="#2ca02c"/><circle cx="229.2" cy="74.3" fill="#2ca02c"/><circle cx="186.0" cy="76.5" fill="#2ca02c"/><circle cx="-8.2" cy="77.8" fill="#2ca02c"/><circle cx="210.4" cy="76.8" fill="#2ca02c"/><circle cx="39.0" cy="74.8" fill="#2ca02c"/><circle cx="49.6" cy="67.6" fill="#2ca02c"/><circle cx="192.7" cy="71.2" fill="#2ca02c"/><circle cx="191.8" cy="77.3" fill="#2ca02c"/><circle cx="176.1" cy="76.3" fill="#2ca02c"/><circle cx="247.1" cy="69.6" fill="#2ca02c"/><circle cx="114.8" cy="74.4" fill="#2ca02c"/><circle cx="242.4" cy="72.9" fill="#2ca02c"/><circle cx="213.9" cy="75.3" fill="#2ca02c"/><circle cx="60.6" cy="76.6" fill="#2ca02c"/><circle cx="201.3" cy="72.8" fill="#2ca02c"/><circle cx="91.9" cy="73.4" fill="#2ca02c"/><circle cx="161.0" cy="77.0" fill="#2ca02c"/><circle cx="212.2" cy="68.2" fill="#2ca02c"/><circle cx="234.4" cy="76.8" fill="#2ca02c"/><circle cx="195.9" cy="77.7" fill="#2ca02c"/><circle cx="117.3" cy="70.0" fill="#2ca02c"/><circle cx="45.7" cy="74.7" fill="#2ca02c"/><circle cx="184.1" cy="67.9" fill="#2ca02c"/><circle cx="211.3" cy="72.5" fill="#2ca02c"/><circle cx="230.5" cy="71.0" fill="#2ca02c"/><circle cx="37.0" cy="70.0" fill="#2ca02c"/><circle cx="42.3" cy="74.7" fill="#2ca02c"/><circle cx="122.2" cy="73.7" fill="#2ca02c"/><circle cx="214.4" cy="76.0" fill="#2ca02c"/><circle cx="135.7" cy="77.4" fill="#2ca02c"/><circle cx="161.7" cy="76.1" fill="#2ca02c"/><circle cx="205.6" cy="77.0" fill="#2ca02c"/><circle cx="21.9" cy="70.3" fill="#2ca02c"/><circle cx="57.5" cy="67.2" fill="#2ca02c"/><circle cx="183.0" cy="70.9" fill="#2ca02c"/><circle cx="-3.1" cy="76.9" fill="#2ca02c"/><circle cx="69.2" cy="77.1" fill="#2ca02c"/><circle cx="239.6" cy="71.2" fill="#2ca02c"/><circle cx="21.5" cy="70.9" fill="#2ca02c"/><circle cx="50.6" cy="68.5" fill="#2ca02c"/><circle cx="132.5" cy="74.5" fill="#2ca02c"/><circle cx="112.8" cy="72.7" fill="#2ca02c"/><circle cx="189.1" cy="69.3" fill="#2ca02c"/><circle cx="11.6" cy="76.7" fill="#2ca02c"/><circle cx="138.0" cy="67.7" fill="#2ca02c"/><circle cx="84.3" cy="69.0" fill="#2ca02c"/><circle cx="130.8" cy="69.8" fill="#2ca02c"/><circle cx="162.1" cy="73.6" fill="#2ca02c"/><circle cx="239.8" cy="71.3" fill="#2ca02c"/><circle cx="117.8" cy="68.4" fill="#2ca02c"/><circle cx="119.7" cy="77.5" fill="#2ca02c"/><circle cx="26.3" cy="68.7" fill="#2ca02c"/><circle cx="146.8" cy="67.5" fill="#2ca02c"/><circle cx="107.5" cy="74.1" fill="#2ca02c"/><circle cx="68.6" cy="70.4" fill="#2ca02c"/><circle cx="96.8" cy="77.1" fill="#2ca02c"/><circle cx="202.5" cy="74.2" fill="#2ca02c"/><circle cx="122.0" cy="71.1" fill="#2ca02c"/><circle cx="123.3" cy="76.1" fill="#2ca02c"/><circle cx="36.2" cy="73.3" fill="#2ca02c"/><circle cx="15.1" cy="71.0" fill="#2ca02c"/><circle cx="144.4" cy="67.7" fill="#2ca02c"/><circle cx="-3.5" cy="78.4" fill="#2ca02c"/><circle cx="57.1" cy="78.4" fill="#2ca02c"/><circle cx="13.2" cy="68.3" fill="#2ca02c"/><circle cx="89.1" cy="78.5" fill="#2ca02c"/><circle cx="90.1" cy="76.8" fill="#2ca02c"/><circle cx="52.9" cy="67.8" fill="#2ca02c"/><circle cx="176.7" cy="71.4" fill="#2ca02c"/><circle cx="231.5" cy="74.6" fill="#2ca02c"/><circle cx="14.9" cy="72.0" fill="#2ca02c"/><circle cx="149.1" cy="69.1" fill="#2ca02c"/><circle cx="178.5" cy="72.5" fill="#2ca02c"/><circle cx="42.8" cy="75.8" fill="#2ca02c"/><circle cx="83.1" cy="77.1" fill="#2ca02c"/><circle cx="53.9" cy="72.9" fill="#2ca02c"/><circle cx="174.8" cy="67.9" fill="#2ca02c"/><circle cx="127.5" cy="70.5" fill="#2ca02c"/><circle cx="34.7" cy="78.2" fill="#2ca02c"/><circle cx="229.0" cy="77.5" fill="#2ca02c"/><circle cx="88.3" cy="71.3" fill="#2ca02c"/><circle cx="167.4" cy="78.6" fill="#2ca02c"/><circle cx="200.4" cy="74.8" fill="#2ca02c"/><circle cx="221.9" cy="75.2" fill="#2ca02c"/><circle cx="90.8" cy="74.0" fill="#2ca02c"/><circle cx="228.7" cy="68.8" fill="#2ca02c"/><circle cx="221.5" cy="77.5" fill="#2ca02c"/><circle cx="94.5" cy="77.1" fill="#2ca02c"/><circle cx="138.1" cy="71.8" fill="#2ca02c"/><circle cx="187.8" cy="71.7" fill="#2ca02c"/><circle cx="37.5" cy="76.1" fill="#2ca02c"/><circle cx="40.7" cy="68.1" fill="#2ca02c"/><circle cx="199.2" cy="73.7" fill="#2ca02c"/><circle cx="129.7" cy="77.8" fill="#2ca02c"/><circle cx="246.5" cy="72.4" fill="#2ca02c"/><circle cx="189.4" cy="71.9" fill="#2ca02c"/><circle cx="177.6" cy="78.5" fill="#2ca02c"/><circle cx="110.9" cy="71.4" fill="#2ca02c"/><circle cx="161.8" cy="74.0" fill="#2ca02c"/><circle cx="210.5" cy="67.7" fill="#2ca02c"/><circle cx="69.7" cy="77.4" fill="#2ca02c"/><circle cx="37.2" cy="67.1" fill="#2ca02c"/><circle cx="100.2" cy="76.4" fill="#2ca02c"/><circle cx="38.6" cy="76.6" fill="#2ca02c"/><circle cx="147.7" cy="75.4" fill="#2ca02c"/><circle cx="240.0" cy="69.6" fill="#2ca02c"/><circle cx="222.7" cy="74.1" fill="#2ca02c"/><circle cx="53.5" cy="77.3" fill="#2ca02c"/><circle cx="258.2" cy="69.5" fill="#2ca02c"/><circle cx="257.6" cy="71.2" fill="#2ca02c"/><circle cx="256.4" cy="72.4" fill="#2ca02c"/><circle cx="257.2" cy="68.8" fill="#2ca02c"/><circle cx="254.1" cy="78.5" fill="#2ca02c"/><circle cx="261.2" cy="69.1" fill="#2ca02c"/><circle cx="258.9" cy="70.8" fill="#2ca02c"/><circle cx="270.8" cy="76.8" fill="#2ca02c"/><circle cx="284.8" cy="75.5" fill="#2ca02c"/><circle cx="271.5" cy="69.7" fill="#2ca02c"/><circle cx="270.8" cy="75.6" fill="#2ca02c"/><circle cx="271.4" cy="75.7" fill="#2ca02c"/><circle cx="279.0" cy="77.8" fill="#2ca02c"/><circle cx="274.6" cy="67.7" fill="#2ca02c"/><circle cx="273.0" cy="73.2" fill="#2ca02c"/><circle cx="279.7" cy="69.5" fill="#2ca02c"/><circle cx="278.2" cy="78.0" fill="#2ca02c"/><circle cx="269.7" cy="68.4" fill="#2ca02c"/><circle cx="286.4" cy="73.8" fill="#2ca02c"/><circle cx="277.2" cy="72.3" fill="#2ca02c"/><circle cx="275.9" cy="74.4" fill="#2ca02c"/><circle cx="269.8" cy="73.0" fill="#2ca02c"/><circle cx="277.9" cy="67.0" fill="#2ca02c"/><circle cx="287.1" cy="71.7" fill="#2ca02c"/><rect x="450.6" y="62.1" width="37.8" height="21.8" rx="10.9" fill="#2f4f4f" stroke="none" opacity="0.67"/><rect x="451.8" y="63.8" width="35.4" height="18.4" rx="9.2" fill="#705e96" stroke="none" opacity="0.78"/><g opacity="0.78"><circle class="e" cx="460.5" cy="67.3"/><circle class="e" cx="464.2" cy="67.3"/><circle class="e" cx="469.8" cy="66.9"/><circle class="e" cx="475.2" cy="67.2"/><circle class="e" cx="478.8" cy="67.4"/><circle class="e" cx="458.6" cy="78.6"/><circle class="e" cx="466.4" cy="79.3"/><circle class="e" cx="470.8" cy="78.6"/><circle class="e" cx="479.0" cy="78.7"/></g><circle cx="452.4" cy="75.8" fill="#9467bd"/><circle cx="455.4" cy="73.9" fill="#9467bd"/><circle cx="463.6" cy="76.5" fill="#9467bd"/><circle cx="470.1" cy="69.3" fill="#9467bd"/><circle cx="481.7" cy="76.2" fill="#9467bd"/><circle cx="453.0" cy="77.6" fill="#9467bd"/><circle cx="469.2" cy="78.6" fill="#9467bd"/><circle cx="472.8" cy="75.9" fill="#9467bd"/><circle cx="469.2" cy="67.1" fill="#9467bd"/><circle cx="473.0" cy="72.6" fill="#9467bd"/><circle cx="460.1" cy="69.8" fill="#9467bd"/><circle cx="473.5" cy="75.6" fill="#9467bd"/><circle cx="455.8" cy="67.9" fill="#9467bd"/><circle cx="483.1" cy="69.8" fill="#9467bd"/><circle cx="483.5" cy="78.3" fill="#9467bd"/><circle cx="461.2" cy="73.6" fill="#9467bd"/><circle cx="463.7" cy="73.2" fill="#9467bd"/><circle cx="473.2" cy="70.6" fill="#9467bd"/><circle cx="469.7" cy="70.7" fill="#9467bd"/><circle cx="466.0" cy="66.9" fill="#9467bd"/><circle cx="454.7" cy="69.3" fill="#9467bd"/><circle cx="480.8" cy="74.1" fill="#9467bd"/><circle cx="455.5" cy="67.6" fill="#9467bd"/><circle cx="469.4" cy="78.4" fill="#9467bd"/><circle cx="477.7" cy="68.7" fill="#9467bd"/><circle cx="477.3" cy="68.2" fill="#9467bd"/><circle cx="480.9" cy="67.2" fill="#9467bd"/><circle cx="459.5" cy="69.7" fill="#9467bd"/><circle cx="464.3" cy="78.6" fill="#9467bd"/><circle cx="464.5" cy="74.9" fill="#9467bd"/><circle cx="455.3" cy="67.0" fill="#9467bd"/><circle cx="479.4" cy="71.3" fill="#9467bd"/><circle cx="477.7" cy="68.2" fill="#9467bd"/><circle cx="486.0" cy="71.3" fill="#9467bd"/><circle cx="483.8" cy="67.3" fill="#9467bd"/><circle cx="479.5" cy="69.9" fill="#9467bd"/><circle cx="470.1" cy="71.5" fill="#9467bd"/><circle cx="474.6" cy="76.1" fill="#9467bd"/><circle cx="480.2" cy="75.0" fill="#9467bd"/><circle cx="481.9" cy="71.1" fill="#9467bd"/><circle cx="461.7" cy="73.6" fill="#9467bd"/><circle cx="483.9" cy="75.6" fill="#9467bd"/><circle cx="483.5" cy="74.9" fill="#9467bd"/><circle cx="469.8" cy="78.0" fill="#9467bd"/><circle cx="467.7" cy="77.6" fill="#9467bd"/><circle cx="463.1" cy="77.3" fill="#9467bd"/><circle cx="460.6" cy="72.6" fill="#9467bd"/><circle cx="464.8" cy="69.3" fill="#9467bd"/><circle cx="481.8" cy="78.2" fill="#9467bd"/><circle cx="478.9" cy="74.6" fill="#9467bd"/><circle cx="453.4" cy="66.9" fill="#9467bd"/><circle cx="465.7" cy="69.5" fill="#9467bd"/><circle cx="458.6" cy="77.2" fill="#9467bd"/><circle cx="454.9" cy="67.0" fill="#9467bd"/><circle cx="482.5" cy="72.2" fill="#9467bd"/><circle cx="463.6" cy="72.4" fill="#9467bd"/><circle cx="454.8" cy="77.1" fill="#9467bd"/><rect x="495.6" y="61.9" width="43.4" height="22.2" rx="11.1" fill="#2f4f4f" stroke="none" opacity="0.82"/><rect x="496.8" y="63.6" width="41.0" height="18.8" rx="9.4" fill="#b46d25" stroke="none" opacity="0.95"/><g opacity="0.95"><circle class="e" cx="504.7" cy="67.1"/><circle class="e" cx="511.9" cy="67.1"/><circle class="e" cx="519.9" cy="66.9"/><circle class="e" cx="524.6" cy="67.3"/><circle class="e" cx="529.2" cy="66.8"/><circle class="e" cx="505.6" cy="79.0"/><circle class="e" cx="513.0" cy="79.1"/><circle class="e" cx="518.9" cy="78.8"/><circle class="e" cx="522.5" cy="79.2"/><circle class="e" cx="530.7" cy="78.9"/></g><circle cx="525.9" cy="72.4" fill="#ff7f0e"/><circle cx="535.5" cy="71.5" fill="#ff7f0e"/><circle cx="506.7" cy="78.4" fill="#ff7f0e"/><circle cx="532.6" cy="75.8" fill="#ff7f0e"/><circle cx="528.3" cy="73.1" fill="#ff7f0e"/><circle cx="509.8" cy="69.1" fill="#ff7f0e"/><circle cx="520.1" cy="75.3" fill="#ff7f0e"/><circle cx="527.3" cy="77.3" fill="#ff7f0e"/><circle cx="525.0" cy="74.6" fill="#ff7f0e"/><circle cx="534.2" cy="67.1" fill="#ff7f0e"/><circle cx="520.3" cy="68.2" fill="#ff7f0e"/><circle cx="500.8" cy="67.0" fill="#ff7f0e"/><circle cx="525.3" cy="74.0" fill="#ff7f0e"/><circle cx="532.9" cy="73.0" fill="#ff7f0e"/><circle cx="525.0" cy="72.3" fill="#ff7f0e"/><circle cx="503.3" cy="77.3" fill="#ff7f0e"/><circle cx="514.6" cy="73.1" fill="#ff7f0e"/><circle cx="514.5" cy="73.1" fill="#ff7f0e"/><circle cx="505.0" cy="68.8" fill="#ff7f0e"/><circle cx="533.2" cy="71.5" fill="#ff7f0e"/><circle cx="525.4" cy="71.6" fill="#ff7f0e"/><circle cx="507.5" cy="72.8" fill="#ff7f0e"/><circle cx="504.1" cy="73.5" fill="#ff7f0e"/><circle cx="534.8" cy="68.0" fill="#ff7f0e"/><circle cx="525.9" cy="71.0" fill="#ff7f0e"/><circle cx="529.7" cy="69.6" fill="#ff7f0e"/><circle cx="515.0" cy="77.2" fill="#ff7f0e"/><circle cx="517.9" cy="69.0" fill="#ff7f0e"/><circle cx="531.4" cy="72.8" fill="#ff7f0e"/><circle cx="505.2" cy="75.0" fill="#ff7f0e"/><circle cx="505.7" cy="68.1" fill="#ff7f0e"/><circle cx="528.0" cy="73.5" fill="#ff7f0e"/><circle cx="510.9" cy="75.5" fill="#ff7f0e"/><circle cx="535.5" cy="71.1" fill="#ff7f0e"/><circle cx="511.7" cy="76.8" fill="#ff7f0e"/><circle cx="510.0" cy="70.2" fill="#ff7f0e"/><circle cx="526.8" cy="69.3" fill="#ff7f0e"/><circle cx="507.7" cy="68.3" fill="#ff7f0e"/><circle cx="513.4" cy="66.9" fill="#ff7f0e"/><circle cx="532.3" cy="67.7" fill="#ff7f0e"/><circle cx="508.1" cy="77.2" fill="#ff7f0e"/><circle cx="503.9" cy="68.9" fill="#ff7f0e"/><circle cx="499.1" cy="77.0" fill="#ff7f0e"/><circle cx="522.3" cy="69.8" fill="#ff7f0e"/><circle cx="516.9" cy="72.5" fill="#ff7f0e"/><circle cx="506.4" cy="72.5" fill="#ff7f0e"/><circle cx="530.9" cy="72.9" fill="#ff7f0e"/><circle cx="530.0" cy="70.3" fill="#ff7f0e"/><circle cx="531.9" cy="75.6" fill="#ff7f0e"/><circle cx="509.1" cy="67.8" fill="#ff7f0e"/><circle cx="512.2" cy="73.6" fill="#ff7f0e"/><circle cx="501.6" cy="69.7" fill="#ff7f0e"/><circle cx="534.2" cy="72.1" fill="#ff7f0e"/><circle cx="518.3" cy="71.2" fill="#ff7f0e"/><circle cx="527.4" cy="72.6" fill="#ff7f0e"/><circle cx="529.0" cy="75.0" fill="#ff7f0e"/><circle cx="511.6" cy="69.3" fill="#ff7f0e"/><circle cx="527.1" cy="71.5" fill="#ff7f0e"/><circle cx="508.9" cy="68.7" fill="#ff7f0e"/><circle cx="516.3" cy="70.6" fill="#ff7f0e"/><circle cx="509.2" cy="77.8" fill="#ff7f0e"/><circle cx="508.3" cy="75.4" fill="#ff7f0e"/><circle cx="529.3" cy="68.2" fill="#ff7f0e"/><circle cx="523.3" cy="68.1" fill="#ff7f0e"/><circle cx="518.0" cy="77.1" fill="#ff7f0e"/><circle cx="508.4" cy="74.9" fill="#ff7f0e"/><circle cx="502.4" cy="74.7" fill="#ff7f0e"/><circle cx="500.3" cy="68.8" fill="#ff7f0e"/><circle cx="527.5" cy="74.7" fill="#ff7f0e"/><circle cx="526.9" cy="73.6" fill="#ff7f0e"/><circle cx="514.6" cy="77.7" fill="#ff7f0e"/><rect x="563.6" y="62.2" width="58.8" height="21.6" rx="10.8" fill="#2f4f4f" stroke="none" opacity="0.62"/><rect x="564.8" y="63.9" width="56.4" height="18.2" rx="9.1" fill="#8f3738" stroke="none" opacity="0.72"/><g opacity="0.72"><circle class="e" cx="571.7" cy="67.2"/><circle class="e" cx="576.3" cy="67.3"/><circle class="e" cx="582.9" cy="67.3"/><circle class="e" cx="588.1" cy="67.0"/><circle class="e" cx="592.2" cy="67.1"/><circle class="e" cx="599.2" cy="67.1"/><circle class="e" cx="606.7" cy="67.5"/><circle class="e" cx="572.1" cy="79.0"/><circle class="e" cx="577.4" cy="78.5"/><circle class="e" cx="585.2" cy="79.2"/><circle class="e" cx="590.4" cy="78.4"/><circle class="e" cx="595.1" cy="78.7"/><circle class="e" cx="599.7" cy="78.3"/><circle class="e" cx="603.4" cy="78.9"/><circle class="e" cx="611.3" cy="78.5"/></g><circle cx="613.7" cy="76.3" fill="#d62728"/><circle cx="576.2" cy="78.8" fill="#d62728"/><circle cx="585.4" cy="66.9" fill="#d62728"/><circle cx="598.5" cy="73.8" fill="#d62728"/><circle cx="573.9" cy="77.3" fill="#d62728"/><circle cx="580.6" cy="75.5" fill="#d62728"/><circle cx="594.3" cy="76.3" fill="#d62728"/><circle cx="614.4" cy="77.8" fill="#d62728"/><circle cx="598.7" cy="75.7" fill="#d62728"/><circle cx="569.1" cy="67.8" fill="#d62728"/><circle cx="595.9" cy="69.5" fill="#d62728"/><circle cx="583.2" cy="78.4" fill="#d62728"/><circle cx="603.9" cy="75.7" fill="#d62728"/><circle cx="593.3" cy="70.1" fill="#d62728"/><circle cx="596.6" cy="67.2" fill="#d62728"/><circle cx="618.6" cy="67.5" fill="#d62728"/><circle cx="615.4" cy="74.0" fill="#d62728"/><circle cx="572.7" cy="67.1" fill="#d62728"/><circle cx="621.3" cy="68.5" fill="#d62728"/><circle cx="612.7" cy="71.5" fill="#d62728"/><circle cx="620.0" cy="74.1" fill="#d62728"/><circle cx="580.8" cy="74.7" fill="#d62728"/><circle cx="596.9" cy="77.7" fill="#d62728"/><circle cx="584.2" cy="79.0" fill="#d62728"/><circle cx="610.9" cy="71.8" fill="#d62728"/><circle cx="591.5" cy="72.8" fill="#d62728"/><circle cx="575.1" cy="76.0" fill="#d62728"/><circle cx="586.0" cy="70.3" fill="#d62728"/><circle cx="608.9" cy="77.2" fill="#d62728"/><circle cx="607.2" cy="68.4" fill="#d62728"/><circle cx="582.0" cy="78.5" fill="#d62728"/><circle cx="576.7" cy="70.5" fill="#d62728"/><circle cx="599.2" cy="72.8" fill="#d62728"/><circle cx="604.6" cy="74.9" fill="#d62728"/><circle cx="570.1" cy="76.3" fill="#d62728"/><circle cx="580.3" cy="68.9" fill="#d62728"/><circle cx="608.9" cy="75.4" fill="#d62728"/><circle cx="593.5" cy="76.3" fill="#d62728"/><circle cx="572.9" cy="77.5" fill="#d62728"/><circle cx="610.5" cy="75.2" fill="#d62728"/><circle cx="613.2" cy="78.3" fill="#d62728"/><circle cx="607.3" cy="78.3" fill="#d62728"/><circle cx="568.6" cy="72.7" fill="#d62728"/><circle cx="598.8" cy="76.8" fill="#d62728"/><circle cx="574.6" cy="74.1" fill="#d62728"/><circle cx="573.5" cy="67.2" fill="#d62728"/><circle cx="580.9" cy="78.8" fill="#d62728"/><circle cx="584.4" cy="72.2" fill="#d62728"/><circle cx="572.9" cy="72.4" fill="#d62728"/><circle cx="615.5" cy="70.9" fill="#d62728"/><circle cx="583.1" cy="70.4" fill="#d62728"/><circle cx="576.1" cy="74.6" fill="#d62728"/><circle cx="588.2" cy="78.0" fill="#d62728"/><circle cx="571.9" cy="76.8" fill="#d62728"/><circle cx="594.4" cy="69.8" fill="#d62728"/><circle cx="576.6" cy="73.6" fill="#d62728"/><circle cx="576.6" cy="78.6" fill="#d62728"/><circle cx="601.8" cy="74.0" fill="#d62728"/><circle cx="616.9" cy="70.0" fill="#d62728"/><circle cx="592.2" cy="77.2" fill="#d62728"/><circle cx="607.8" cy="72.9" fill="#d62728"/><circle cx="588.1" cy="71.2" fill="#d62728"/><circle cx="604.1" cy="78.9" fill="#d62728"/><circle cx="610.7" cy="77.1" fill="#d62728"/><circle cx="603.4" cy="76.6" fill="#d62728"/><circle cx="605.5" cy="74.4" fill="#d62728"/><circle cx="596.1" cy="67.2" fill="#d62728"/><circle cx="613.0" cy="76.8" fill="#d62728"/><circle cx="580.1" cy="68.3" fill="#d62728"/><circle cx="602.9" cy="72.1" fill="#d62728"/><circle cx="609.3" cy="74.0" fill="#d62728"/><circle cx="612.8" cy="73.9" fill="#d62728"/><circle cx="602.3" cy="78.6" fill="#d62728"/><circle cx="587.4" cy="69.9" fill="#d62728"/><circle cx="589.6" cy="77.1" fill="#d62728"/><circle cx="565.6" cy="68.0" fill="#d62728"/><circle cx="618.5" cy="75.8" fill="#d62728"/><circle cx="593.0" cy="67.3" fill="#d62728"/><circle cx="572.8" cy="71.7" fill="#d62728"/><circle cx="605.6" cy="66.9" fill="#d62728"/><circle cx="566.3" cy="78.8" fill="#d62728"/><circle cx="607.6" cy="77.7" fill="#d62728"/><circle cx="593.2" cy="79.0" fill="#d62728"/><circle cx="584.3" cy="72.9" fill="#d62728"/><circle cx="582.3" cy="78.2" fill="#d62728"/><circle cx="589.6" cy="70.0" fill="#d62728"/><circle cx="640.8" cy="72.8" fill="#d62728"/><circle cx="632.9" cy="71.0" fill="#d62728"/><circle cx="631.1" cy="75.6" fill="#d62728"/><circle cx="630.6" cy="78.8" fill="#d62728"/><circle cx="648.9" cy="77.9" fill="#d62728"/><circle cx="632.6" cy="72.9" fill="#d62728"/><circle cx="633.5" cy="73.0" fill="#d62728"/><circle cx="637.5" cy="68.0" fill="#d62728"/><circle cx="628.7" cy="67.2" fill="#d62728"/><circle cx="647.3" cy="78.0" fill="#d62728"/><circle cx="629.1" cy="67.3" fill="#d62728"/><circle cx="632.9" cy="73.4" fill="#d62728"/><circle cx="631.8" cy="74.7" fill="#d62728"/><circle cx="632.8" cy="75.3" fill="#d62728"/><circle cx="627.6" cy="77.3" fill="#d62728"/><circle cx="632.4" cy="78.4" fill="#d62728"/><circle cx="629.8" cy="74.9" fill="#d62728"/><circle cx="641.3" cy="68.3" fill="#d62728"/><rect x="653.6" y="62.2" width="31.3" height="21.6" rx="10.8" fill="#2f4f4f" stroke="none" opacity="0.58"/><rect x="654.8" y="63.9" width="28.9" height="18.2" rx="9.1" fill="#8f3738" stroke="none" opacity="0.68"/><g opacity="0.68"><circle class="e" cx="663.6" cy="67.0"/><circle class="e" cx="667.2" cy="67.6"/><circle class="e" cx="671.7" cy="67.0"/><circle class="e" cx="663.1" cy="78.3"/><circle class="e" cx="669.8" cy="78.5"/><circle class="e" cx="674.1" cy="78.6"/></g><circle cx="669.1" cy="67.8" fill="#d62728"/><circle cx="671.9" cy="74.3" fill="#d62728"/><circle cx="661.6" cy="79.0" fill="#d62728"/><circle cx="664.3" cy="78.4" fill="#d62728"/><circle cx="665.6" cy="78.3" fill="#d62728"/><circle cx="658.0" cy="71.4" fill="#d62728"/><circle cx="655.8" cy="72.1" fill="#d62728"/><circle cx="664.2" cy="72.7" fill="#d62728"/><circle cx="679.7" cy="72.7" fill="#d62728"/><circle cx="673.0" cy="70.5" fill="#d62728"/><circle cx="660.1" cy="73.2" fill="#d62728"/><circle cx="661.3" cy="77.4" fill="#d62728"/><circle cx="659.3" cy="75.4" fill="#d62728"/><circle cx="671.5" cy="68.0" fill="#d62728"/><circle cx="670.8" cy="70.2" fill="#d62728"/><circle cx="657.4" cy="77.6" fill="#d62728"/><circle cx="670.3" cy="78.2" fill="#d62728"/><circle cx="680.0" cy="68.5" fill="#d62728"/><circle cx="660.2" cy="74.6" fill="#d62728"/><circle cx="654.7" cy="76.0" fill="#d62728"/><circle cx="662.9" cy="71.2" fill="#d62728"/><circle cx="666.7" cy="74.9" fill="#d62728"/><circle cx="662.7" cy="71.5" fill="#d62728"/><circle cx="655.8" cy="68.5" fill="#d62728"/><circle cx="681.3" cy="71.0" fill="#d62728"/><circle cx="668.8" cy="72.9" fill="#d62728"/><circle cx="657.8" cy="75.7" fill="#d62728"/><circle cx="681.1" cy="76.3" fill="#d62728"/><circle cx="678.5" cy="68.5" fill="#d62728"/><circle cx="661.7" cy="74.9" fill="#d62728"/><circle cx="659.9" cy="69.5" fill="#d62728"/><circle cx="676.4" cy="70.9" fill="#d62728"/><circle cx="656.7" cy="67.5" fill="#d62728"/><circle cx="657.2" cy="68.3" fill="#d62728"/><circle cx="672.8" cy="72.2" fill="#d62728"/><circle cx="678.0" cy="67.2" fill="#d62728"/><circle cx="674.3" cy="79.0" fill="#d62728"/><circle cx="670.5" cy="69.1" fill="#d62728"/><circle cx="674.5" cy="70.0" fill="#d62728"/><circle cx="661.6" cy="67.4" fill="#d62728"/><circle cx="667.8" cy="76.1" fill="#d62728"/><circle cx="674.8" cy="79.1" fill="#d62728"/><circle cx="664.3" cy="66.8" fill="#d62728"/><circle cx="656.2" cy="68.7" fill="#d62728"/><circle cx="657.3" cy="73.3" fill="#d62728"/><circle cx="673.1" cy="73.0" fill="#d62728"/><circle cx="680.6" cy="72.4" fill="#d62728"/><rect x="446.1" y="116.6" width="33.7" height="22.8" rx="11.4" fill="#2f4f4f" stroke="none" opacity="0.83"/><rect x="447.3" y="118.3" width="31.3" height="19.4" rx="9.7" fill="#4a7053" stroke="none" opacity="0.97"/><g opacity="0.97"><circle class="e" cx="456.9" cy="121.3"/><circle class="e" cx="465.3" cy="121.6"/><circle class="e" cx="456.8" cy="134.4"/><circle class="e" cx="461.9" cy="134.2"/><circle class="e" cx="470.4" cy="134.3"/></g><circle cx="460.5" cy="125.5" fill="#bcbd22"/><circle cx="455.9" cy="126.9" fill="#bcbd22"/><circle cx="460.9" cy="124.6" fill="#bcbd22"/><circle cx="454.2" cy="128.7" fill="#bcbd22"/><circle cx="449.5" cy="125.0" fill="#bcbd22"/><circle cx="459.4" cy="123.7" fill="#bcbd22"/><circle cx="451.2" cy="132.6" fill="#bcbd22"/><circle cx="454.0" cy="125.0" fill="#bcbd22"/><circle cx="462.3" cy="124.4" fill="#bcbd22"/><circle cx="450.8" cy="128.4" fill="#bcbd22"/><circle cx="459.0" cy="125.2" fill="#bcbd22"/><circle cx="462.3" cy="125.9" fill="#bcbd22"/><circle cx="464.1" cy="123.5" fill="#17becf"/><circle cx="464.1" cy="122.1" fill="#17becf"/><circle cx="457.0" cy="134.1" fill="#17becf"/><circle cx="453.5" cy="125.5" fill="#17becf"/><circle cx="470.7" cy="124.3" fill="#17becf"/><circle cx="476.5" cy="133.8" fill="#17becf"/><circle cx="476.3" cy="133.3" fill="#17becf"/><circle cx="456.4" cy="123.6" fill="#17becf"/><circle cx="464.3" cy="122.9" fill="#17becf"/><circle cx="475.6" cy="131.7" fill="#17becf"/><circle cx="475.3" cy="122.9" fill="#17becf"/><circle cx="464.8" cy="127.6" fill="#17becf"/><circle cx="458.4" cy="125.9" fill="#17becf"/><circle cx="471.2" cy="124.8" fill="#17becf"/><circle cx="475.4" cy="125.1" fill="#17becf"/><circle cx="474.8" cy="129.6" fill="#17becf"/><circle cx="471.4" cy="122.2" fill="#17becf"/><circle cx="459.4" cy="125.5" fill="#17becf"/><circle cx="452.5" cy="127.0" fill="#17becf"/><circle cx="477.1" cy="132.3" fill="#17becf"/><circle cx="458.8" cy="128.1" fill="#17becf"/><circle cx="452.7" cy="129.0" fill="#17becf"/><circle cx="470.5" cy="126.5" fill="#17becf"/><circle cx="459.2" cy="125.9" fill="#17becf"/><circle cx="473.1" cy="130.9" fill="#17becf"/><circle cx="466.4" cy="127.2" fill="#17becf"/><circle cx="463.9" cy="125.4" fill="#17becf"/><circle cx="452.9" cy="125.0" fill="#17becf"/><circle cx="457.7" cy="124.2" fill="#17becf"/><circle cx="475.7" cy="123.9" fill="#17becf"/><circle cx="461.5" cy="123.9" fill="#17becf"/><circle cx="476.0" cy="125.1" fill="#17becf"/><circle cx="475.7" cy="134.1" fill="#17becf"/><circle cx="475.9" cy="125.1" fill="#17becf"/><circle cx="468.0" cy="125.7" fill="#17becf"/><circle cx="455.6" cy="123.5" fill="#17becf"/><circle cx="468.5" cy="124.2" fill="#17becf"/><circle cx="471.1" cy="131.1" fill="#17becf"/><circle cx="467.9" cy="133.2" fill="#17becf"/><circle cx="458.4" cy="124.6" fill="#17becf"/><circle cx="460.2" cy="132.2" fill="#17becf"/><circle cx="473.5" cy="134.0" fill="#17becf"/><circle cx="470.4" cy="123.7" fill="#17becf"/><circle cx="463.5" cy="126.5" fill="#17becf"/><circle cx="455.9" cy="122.8" fill="#17becf"/><circle cx="476.9" cy="127.7" fill="#17becf"/><circle cx="468.9" cy="126.9" fill="#17becf"/><circle cx="471.7" cy="125.0" fill="#17becf"/><circle cx="459.7" cy="124.0" fill="#17becf"/><rect x="512.6" y="117.1" width="27.8" height="21.8" rx="10.9" fill="#2f4f4f" stroke="none" opacity="0.53"/><rect x="513.8" y="118.8" width="25.4" height="18.4" rx="9.2" fill="#9e6796" stroke="none" opacity="0.62"/><g opacity="0.62"><circle class="e" cx="521.1" cy="122.1"/><circle class="e" cx="525.8" cy="121.9"/><circle class="e" cx="532.3" cy="121.8"/><circle class="e" cx="521.8" cy="133.4"/><circle class="e" cx="528.8" cy="133.6"/></g><circle cx="528.0" cy="123.5" fill="#e377c2"/><circle cx="519.1" cy="123.2" fill="#e377c2"/><circle cx="533.4" cy="125.2" fill="#e377c2"/><circle cx="528.3" cy="128.6" fill="#e377c2"/><circle cx="536.7" cy="126.5" fill="#e377c2"/><circle cx="537.0" cy="125.0" fill="#e377c2"/><circle cx="528.7" cy="124.5" fill="#e377c2"/><circle cx="531.9" cy="130.9" fill="#e377c2"/><circle cx="518.7" cy="133.8" fill="#e377c2"/><circle cx="521.5" cy="124.3" fill="#e377c2"/><circle cx="522.9" cy="132.1" fill="#e377c2"/><circle cx="523.4" cy="128.6" fill="#e377c2"/><circle cx="529.8" cy="124.6" fill="#e377c2"/><circle cx="515.4" cy="123.8" fill="#e377c2"/><circle cx="534.1" cy="128.3" fill="#e377c2"/><circle cx="527.7" cy="132.8" fill="#e377c2"/><circle cx="535.6" cy="130.2" fill="#e377c2"/><circle cx="516.8" cy="128.6" fill="#e377c2"/><circle cx="524.5" cy="125.1" fill="#e377c2"/><circle cx="519.1" cy="134.1" fill="#e377c2"/><circle cx="516.0" cy="131.3" fill="#e377c2"/><circle cx="537.0" cy="125.6" fill="#e377c2"/><circle cx="534.2" cy="129.1" fill="#e377c2"/><circle cx="519.6" cy="129.1" fill="#e377c2"/><circle cx="515.8" cy="123.2" fill="#e377c2"/><circle cx="521.5" cy="129.5" fill="#e377c2"/><circle cx="517.0" cy="129.5" fill="#e377c2"/><circle cx="515.4" cy="126.8" fill="#e377c2"/><circle cx="521.0" cy="131.3" fill="#e377c2"/><circle cx="516.3" cy="134.2" fill="#e377c2"/><circle cx="525.7" cy="122.7" fill="#e377c2"/><circle cx="527.8" cy="122.1" fill="#e377c2"/><circle cx="527.3" cy="127.8" fill="#e377c2"/><circle cx="524.0" cy="123.2" fill="#e377c2"/><circle cx="534.1" cy="133.1" fill="#e377c2"/><circle cx="533.9" cy="128.5" fill="#e377c2"/><circle cx="533.7" cy="132.1" fill="#e377c2"/><rect x="547.1" y="117.4" width="11.8" height="21.2" rx="10.6" fill="#2f4f4f" stroke="none" opacity="0.47"/><rect x="548.3" y="119.1" width="9.4" height="17.8" rx="8.9" fill="#9e6796" stroke="none" opacity="0.55"/><g opacity="0.55"></g><circle cx="553.4" cy="133.0" fill="#e377c2"/><circle cx="552.0" cy="130.5" fill="#e377c2"/><circle cx="554.8" cy="124.0" fill="#e377c2"/><circle cx="551.6" cy="125.3" fill="#e377c2"/><circle cx="553.3" cy="126.7" fill="#e377c2"/><circle cx="554.9" cy="133.5" fill="#e377c2"/><circle cx="551.3" cy="128.9" fill="#e377c2"/><circle cx="554.4" cy="126.0" fill="#e377c2"/><circle cx="553.7" cy="123.1" fill="#e377c2"/><circle cx="555.2" cy="123.0" fill="#e377c2"/><circle cx="550.4" cy="124.1" fill="#e377c2"/><circle cx="550.3" cy="127.9" fill="#e377c2"/><circle cx="554.8" cy="122.3" fill="#e377c2"/><circle cx="552.9" cy="131.7" fill="#e377c2"/><circle cx="553.2" cy="129.3" fill="#e377c2"/><circle cx="555.7" cy="130.9" fill="#e377c2"/><circle cx="567.9" cy="124.7" fill="#e377c2"/><circle cx="572.3" cy="128.2" fill="#e377c2"/><circle cx="572.3" cy="125.6" fill="#e377c2"/><circle cx="570.2" cy="131.0" fill="#e377c2"/><circle cx="572.5" cy="126.2" fill="#e377c2"/><circle cx="571.9" cy="128.5" fill="#e377c2"/><circle cx="570.6" cy="129.0" fill="#e377c2"/><rect x="579.6" y="117.4" width="51.8" height="21.2" rx="10.6" fill="#2f4f4f" stroke="none" opacity="0.43"/><rect x="580.8" y="119.1" width="49.4" height="17.8" rx="8.9" fill="#9b6794" stroke="none" opacity="0.50"/><g opacity="0.50"><circle class="e" cx="589.6" cy="122.7"/><circle class="e" cx="593.5" cy="122.0"/><circle class="e" cx="599.3" cy="122.3"/><circle class="e" cx="604.7" cy="122.1"/><circle class="e" cx="609.4" cy="122.7"/><circle class="e" cx="617.8" cy="122.3"/><circle class="e" cx="623.1" cy="122.7"/><circle class="e" cx="588.4" cy="133.6"/><circle class="e" cx="596.4" cy="134.0"/><circle class="e" cx="603.1" cy="133.5"/><circle class="e" cx="608.5" cy="133.5"/><circle class="e" cx="614.2" cy="133.1"/><circle class="e" cx="621.6" cy="133.6"/></g><circle cx="584.9" cy="123.0" fill="#e377c2"/><circle cx="627.2" cy="132.3" fill="#e377c2"/><circle cx="619.4" cy="127.6" fill="#e377c2"/><circle cx="584.0" cy="130.1" fill="#e377c2"/><circle cx="616.3" cy="129.5" fill="#e377c2"/><circle cx="595.9" cy="132.5" fill="#e377c2"/><circle cx="603.7" cy="125.9" fill="#e377c2"/><circle cx="594.5" cy="126.8" fill="#e377c2"/><circle cx="621.9" cy="122.9" fill="#e377c2"/><circle cx="588.5" cy="131.5" fill="#e377c2"/><circle cx="624.0" cy="133.2" fill="#e377c2"/><circle cx="608.4" cy="128.3" fill="#e377c2"/><circle cx="608.1" cy="128.6" fill="#e377c2"/><circle cx="599.3" cy="132.7" fill="#e377c2"/><circle cx="582.4" cy="130.1" fill="#e377c2"/><circle cx="608.3" cy="130.8" fill="#e377c2"/><circle cx="596.1" cy="131.3" fill="#e377c2"/><circle cx="609.1" cy="128.1" fill="#e377c2"/><circle cx="594.0" cy="129.2" fill="#e377c2"/><circle cx="627.0" cy="129.0" fill="#e377c2"/><circle cx="619.7" cy="122.1" fill="#e377c2"/><circle cx="597.7" cy="127.3" fill="#e377c2"/><circle cx="587.1" cy="127.3" fill="#e377c2"/><circle cx="618.7" cy="133.9" fill="#e377c2"/><circle cx="611.7" cy="127.7" fill="#e377c2"/><circle cx="592.4" cy="129.2" fill="#e377c2"/><circle cx="629.3" cy="129.7" fill="#e377c2"/><circle cx="588.9" cy="124.5" fill="#e377c2"/><circle cx="592.4" cy="130.8" fill="#e377c2"/><circle cx="607.5" cy="122.5" fill="#e377c2"/><circle cx="628.3" cy="131.4" fill="#e377c2"/><circle cx="618.4" cy="126.4" fill="#e377c2"/><circle cx="595.5" cy="122.8" fill="#e377c2"/><circle cx="601.9" cy="123.3" fill="#e377c2"/><circle cx="627.9" cy="125.1" fill="#e377c2"/><circle cx="588.8" cy="124.0" fill="#e377c2"/><circle cx="619.0" cy="124.6" fill="#e377c2"/><circle cx="621.0" cy="131.2" fill="#e377c2"/><circle cx="619.8" cy="131.8" fill="#e377c2"/><circle cx="611.1" cy="126.5" fill="#e377c2"/><circle cx="619.3" cy="129.9" fill="#e377c2"/><circle cx="594.1" cy="131.1" fill="#e377c2"/><circle cx="589.0" cy="127.1" fill="#e377c2"/><circle cx="603.0" cy="132.9" fill="#e377c2"/><circle cx="603.2" cy="123.9" fill="#e377c2"/><circle cx="608.5" cy="130.3" fill="#e377c2"/><circle cx="589.1" cy="129.8" fill="#e377c2"/><circle cx="615.1" cy="122.0" fill="#e377c2"/><circle cx="616.9" cy="128.5" fill="#e377c2"/><circle cx="581.0" cy="133.7" fill="#e377c2"/><circle cx="609.1" cy="123.0" fill="#e377c2"/><circle cx="594.7" cy="134.0" fill="#e377c2"/><circle cx="625.3" cy="127.3" fill="#e377c2"/><circle cx="623.2" cy="132.5" fill="#e377c2"/><circle cx="619.2" cy="128.9" fill="#e377c2"/><circle cx="582.1" cy="131.5" fill="#e377c2"/><circle cx="617.9" cy="130.8" fill="#e377c2"/><circle cx="586.6" cy="132.0" fill="#e377c2"/><circle cx="609.9" cy="124.0" fill="#e377c2"/><circle cx="594.1" cy="126.5" fill="#e377c2"/><circle cx="600.0" cy="126.5" fill="#e377c2"/><circle cx="636.0" cy="129.2" fill="#e377c2"/><circle cx="636.2" cy="129.1" fill="#e377c2"/><rect x="439.6" y="171.7" width="81.3" height="22.2" rx="11.1" fill="#2f4f4f" stroke="none" opacity="0.83"/><rect x="440.8" y="173.4" width="78.9" height="18.8" rx="9.4" fill="#24279a" stroke="none" opacity="0.97"/><g opacity="0.97"><circle class="e" cx="449.9" cy="177.1"/><circle class="e" cx="457.7" cy="176.9"/><circle class="e" cx="462.6" cy="176.5"/><circle class="e" cx="466.4" cy="177.1"/><circle class="e" cx="473.4" cy="176.3"/><circle class="e" cx="478.6" cy="176.5"/><circle class="e" cx="485.1" cy="176.5"/><circle class="e" cx="492.7" cy="177.0"/><circle class="e" cx="500.6" cy="177.1"/><circle class="e" cx="507.2" cy="176.9"/><circle class="e" cx="450.1" cy="189.0"/><circle class="e" cx="455.0" cy="189.0"/><circle class="e" cx="462.1" cy="188.8"/><circle class="e" cx="470.1" cy="189.1"/><circle class="e" cx="473.8" cy="189.2"/><circle class="e" cx="477.4" cy="188.6"/><circle class="e" cx="483.0" cy="189.3"/><circle class="e" cx="490.0" cy="189.1"/><circle class="e" cx="493.6" cy="188.9"/><circle class="e" cx="500.0" cy="188.4"/><circle class="e" cx="504.2" cy="188.8"/><circle class="e" cx="510.3" cy="188.5"/></g><circle cx="438.9" cy="183.5" fill="#2b00d4"/><circle cx="444.7" cy="180.2" fill="#0f00f0"/><circle cx="438.4" cy="184.3" fill="#0f00f0"/><circle cx="440.6" cy="179.4" fill="#0800f7"/><circle cx="441.5" cy="185.5" fill="#0500fa"/><circle cx="440.1" cy="186.2" fill="#3900c6"/><circle cx="443.6" cy="184.0" fill="#0000ff"/><circle cx="444.1" cy="186.8" fill="#0600f9"/><circle cx="438.5" cy="184.1" fill="#1800e7"/><circle cx="444.5" cy="184.8" fill="#0500fa"/><circle cx="467.7" cy="182.9" fill="#2400db"/><circle cx="494.0" cy="183.2" fill="#0800f7"/><circle cx="504.6" cy="177.3" fill="#0200fd"/><circle cx="481.4" cy="181.1" fill="#0100fe"/><circle cx="503.4" cy="182.8" fill="#0700f8"/><circle cx="480.8" cy="185.6" fill="#0300fc"/><circle cx="469.2" cy="184.2" fill="#1400eb"/><circle cx="456.2" cy="188.1" fill="#0600f9"/><circle cx="447.5" cy="178.7" fill="#0a00f5"/><circle cx="516.1" cy="188.4" fill="#1300ec"/><circle cx="484.3" cy="180.9" fill="#1200ed"/><circle cx="467.7" cy="184.6" fill="#1a00e5"/><circle cx="499.0" cy="183.5" fill="#0700f8"/><circle cx="504.5" cy="186.3" fill="#0300fc"/><circle cx="467.8" cy="177.7" fill="#1000ef"/><circle cx="471.0" cy="177.5" fill="#1800e7"/><circle cx="464.1" cy="188.2" fill="#0100fe"/><circle cx="510.3" cy="179.7" fill="#1b00e4"/><circle cx="513.9" cy="180.8" fill="#0c00f3"/><circle cx="494.5" cy="179.2" fill="#0d00f2"/><circle cx="469.0" cy="188.0" fill="#0500fa"/><circle cx="494.8" cy="186.9" fill="#2900d6"/><circle cx="491.4" cy="180.9" fill="#0000ff"/><circle cx="515.2" cy="182.7" fill="#4300bc"/><circle cx="515.1" cy="187.4" fill="#0600f9"/><circle cx="511.1" cy="177.9" fill="#0f00f0"/><circle cx="445.5" cy="184.5" fill="#1a00e5"/><circle cx="487.9" cy="182.0" fill="#0f00f0"/><circle cx="468.4" cy="186.0" fill="#0700f8"/><circle cx="475.3" cy="187.9" fill="#0200fd"/><circle cx="482.4" cy="180.8" fill="#0300fc"/><circle cx="489.4" cy="179.6" fill="#0300fc"/><circle cx="484.0" cy="184.8" fill="#1a00e5"/><circle cx="477.6" cy="182.6" fill="#0700f8"/><circle cx="456.0" cy="184.6" fill="#0000ff"/><circle cx="444.9" cy="188.4" fill="#0400fb"/><circle cx="497.4" cy="186.0" fill="#1e00e1"/><circle cx="508.4" cy="182.5" fill="#0b00f4"/><circle cx="483.3" cy="186.9" fill="#1100ee"/><circle cx="471.7" cy="178.4" fill="#1200ed"/><circle cx="502.1" cy="188.5" fill="#2300dc"/><circle cx="475.6" cy="188.9" fill="#1600e9"/><circle cx="460.8" cy="187.0" fill="#0b00f4"/><circle cx="469.2" cy="181.0" fill="#0400fb"/><circle cx="485.2" cy="184.4" fill="#0400fb"/><circle cx="511.7" cy="186.1" fill="#2000df"/><circle cx="497.6" cy="187.7" fill="#2e00d1"/><circle cx="514.7" cy="177.0" fill="#1500ea"/><circle cx="494.4" cy="186.5" fill="#2f00d0"/><circle cx="448.9" cy="187.7" fill="#1900e6"/><circle cx="510.0" cy="188.5" fill="#0a00f5"/><circle cx="451.2" cy="179.5" fill="#0d00f2"/><circle cx="510.0" cy="179.4" fill="#1700e8"/><circle cx="482.7" cy="188.1" fill="#0f00f0"/><circle cx="504.5" cy="183.7" fill="#1300ec"/><circle cx="482.8" cy="179.8" fill="#3800c7"/><circle cx="468.1" cy="182.6" fill="#2a00d5"/><circle cx="511.8" cy="182.0" fill="#1300ec"/><circle cx="499.0" cy="176.7" fill="#3000cf"/><circle cx="491.5" cy="188.3" fill="#1900e6"/><circle cx="485.7" cy="188.8" fill="#1900e6"/><circle cx="511.6" cy="183.0" fill="#1400eb"/><circle cx="472.0" cy="183.2" fill="#1600e9"/><circle cx="459.1" cy="177.6" fill="#0f00f0"/><circle cx="508.7" cy="178.3" fill="#0700f8"/><circle cx="486.0" cy="185.8" fill="#2f00d0"/><circle cx="474.8" cy="181.8" fill="#0a00f5"/><circle cx="449.5" cy="187.5" fill="#0100fe"/><circle cx="450.2" cy="185.4" fill="#3500ca"/><circle cx="498.7" cy="181.4" fill="#1500ea"/><circle cx="451.2" cy="187.7" fill="#1e00e1"/><circle cx="485.4" cy="179.6" fill="#0200fd"/><circle cx="457.8" cy="188.0" fill="#2500da"/><circle cx="449.9" cy="188.4" fill="#1700e8"/><circle cx="506.2" cy="180.2" fill="#0e00f1"/><circle cx="470.2" cy="188.8" fill="#1700e8"/><circle cx="477.3" cy="184.6" fill="#1d00e2"/><circle cx="481.9" cy="188.0" fill="#0200fd"/><circle cx="481.3" cy="177.3" fill="#0c00f3"/><circle cx="479.4" cy="184.1" fill="#1300ec"/><circle cx="483.5" cy="182.7" fill="#0c00f3"/><circle cx="493.3" cy="179.7" fill="#1600e9"/><circle cx="497.9" cy="185.6" fill="#0c00f3"/><circle cx="461.8" cy="179.8" fill="#0000ff"/><circle cx="445.3" cy="184.3" fill="#1300ec"/><circle cx="514.0" cy="181.3" fill="#1900e6"/><circle cx="464.1" cy="178.2" fill="#1000ef"/><circle cx="459.0" cy="182.7" fill="#1900e6"/><circle cx="474.7" cy="185.9" fill="#1200ed"/><circle cx="455.5" cy="179.8" fill="#0700f8"/><circle cx="474.6" cy="183.2" fill="#2400db"/><circle cx="479.4" cy="180.0" fill="#0000ff"/><circle cx="454.4" cy="179.6" fill="#1400eb"/><circle cx="475.4" cy="181.6" fill="#0700f8"/><circle cx="467.0" cy="180.8" fill="#0700f8"/><circle cx="505.8" cy="186.3" fill="#1700e8"/><circle cx="508.9" cy="177.7" fill="#1000ef"/><circle cx="463.3" cy="180.8" fill="#0000ff"/><circle cx="507.5" cy="188.7" fill="#0800f7"/><circle cx="484.2" cy="186.2" fill="#0100fe"/><circle cx="473.1" cy="177.3" fill="#0500fa"/><circle cx="446.9" cy="186.1" fill="#1000ef"/><circle cx="479.4" cy="182.0" fill="#0500fa"/><circle cx="467.3" cy="181.9" fill="#3b00c4"/><circle cx="470.5" cy="179.8" fill="#0800f7"/><circle cx="463.1" cy="188.1" fill="#1600e9"/><circle cx="511.9" cy="182.9" fill="#2a00d5"/><circle cx="483.3" cy="179.5" fill="#1c00e3"/><circle cx="494.5" cy="188.6" fill="#1800e7"/><circle cx="491.3" cy="179.9" fill="#0f00f0"/><circle cx="446.4" cy="183.7" fill="#2600d9"/><circle cx="512.7" cy="178.9" fill="#1100ee"/><circle cx="503.9" cy="186.3" fill="#1600e9"/><circle cx="498.1" cy="188.7" fill="#0800f7"/><circle cx="476.6" cy="185.6" fill="#2500da"/><circle cx="472.2" cy="182.7" fill="#2200dd"/><circle cx="456.8" cy="179.1" fill="#2400db"/><circle cx="462.3" cy="180.6" fill="#0700f8"/><circle cx="480.4" cy="181.2" fill="#1300ec"/><circle cx="516.5" cy="182.1" fill="#1000ef"/><circle cx="523.5" cy="179.6" fill="#1800e7"/><circle cx="528.4" cy="184.1" fill="#1800e7"/><rect x="435.6" y="226.8" width="79.8" height="22.2" rx="11.1" fill="#2f4f4f" stroke="none" opacity="0.83"/><rect x="436.8" y="228.5" width="77.4" height="18.8" rx="9.4" fill="#5f275f" stroke="none" opacity="0.97"/><g opacity="0.97"><circle class="e" cx="445.0" cy="232.1"/><circle class="e" cx="451.0" cy="231.7"/><circle class="e" cx="459.3" cy="231.8"/><circle class="e" cx="464.1" cy="232.2"/><circle class="e" cx="468.9" cy="232.2"/><circle class="e" cx="476.4" cy="231.6"/><circle class="e" cx="480.2" cy="231.7"/><circle class="e" cx="484.0" cy="232.3"/><circle class="e" cx="487.8" cy="231.4"/><circle class="e" cx="495.2" cy="231.9"/><circle class="e" cx="498.8" cy="231.8"/><circle class="e" cx="502.9" cy="231.6"/><circle class="e" cx="445.0" cy="244.1"/><circle class="e" cx="453.0" cy="243.9"/><circle class="e" cx="461.2" cy="243.9"/><circle class="e" cx="468.9" cy="244.2"/><circle class="e" cx="472.6" cy="243.6"/><circle class="e" cx="476.5" cy="244.1"/><circle class="e" cx="481.1" cy="243.8"/><circle class="e" cx="486.7" cy="243.9"/><circle class="e" cx="492.5" cy="243.6"/><circle class="e" cx="496.5" cy="243.8"/><circle class="e" cx="501.8" cy="243.6"/></g><circle cx="436.9" cy="240.6" fill="#ff0020"/><circle cx="433.6" cy="235.1" fill="#ff0020"/><circle cx="436.2" cy="235.0" fill="#ff0020"/><circle cx="433.8" cy="238.9" fill="#ff0020"/><circle cx="438.5" cy="240.1" fill="#ff0020"/><circle cx="433.4" cy="235.0" fill="#ff0020"/><circle cx="437.4" cy="235.4" fill="#ff0020"/><circle cx="436.8" cy="239.6" fill="#ff0020"/><circle cx="439.8" cy="241.2" fill="#60009f"/><circle cx="468.4" cy="238.3" fill="#2300dc"/><circle cx="448.9" cy="231.9" fill="#1800e7"/><circle cx="473.6" cy="236.0" fill="#fc0003"/><circle cx="480.5" cy="241.8" fill="#5000af"/><circle cx="479.8" cy="234.1" fill="#1700e8"/><circle cx="509.9" cy="243.6" fill="#f1000e"/><circle cx="460.3" cy="243.7" fill="#ea0015"/><circle cx="469.8" cy="243.6" fill="#2800d7"/><circle cx="442.3" cy="241.8" fill="#980067"/><circle cx="476.5" cy="232.5" fill="#93006c"/><circle cx="478.2" cy="242.7" fill="#8f0070"/><circle cx="457.5" cy="241.5" fill="#c70038"/><circle cx="489.2" cy="238.2" fill="#c4003b"/><circle cx="506.9" cy="234.5" fill="#2d00d2"/><circle cx="464.5" cy="232.9" fill="#f90006"/><circle cx="507.4" cy="238.6" fill="#bd0042"/><circle cx="445.4" cy="243.0" fill="#e0001f"/><circle cx="487.8" cy="243.4" fill="#3d00c2"/><circle cx="484.8" cy="243.9" fill="#760089"/><circle cx="504.4" cy="233.8" fill="#b3004c"/><circle cx="507.5" cy="241.2" fill="#fb0004"/><circle cx="491.1" cy="233.2" fill="#2900d6"/><circle cx="462.6" cy="232.0" fill="#85007a"/><circle cx="483.3" cy="234.0" fill="#2d00d2"/><circle cx="505.4" cy="237.0" fill="#670098"/><circle cx="456.4" cy="238.8" fill="#aa0055"/><circle cx="492.0" cy="243.7" fill="#2000df"/><circle cx="453.7" cy="238.3" fill="#65009a"/><circle cx="494.9" cy="232.4" fill="#880077"/><circle cx="471.6" cy="237.5" fill="#fb0004"/><circle cx="457.7" cy="242.6" fill="#dc0023"/><circle cx="493.8" cy="233.7" fill="#4700b8"/><circle cx="499.7" cy="232.2" fill="#94006b"/><circle cx="452.8" cy="240.6" fill="#e70018"/><circle cx="505.5" cy="234.8" fill="#980067"/><circle cx="447.7" cy="234.3" fill="#1f00e0"/><circle cx="486.7" cy="234.3" fill="#a3005c"/><circle cx="464.4" cy="242.5" fill="#df0020"/><circle cx="476.5" cy="242.8" fill="#5f00a0"/><circle cx="477.0" cy="237.8" fill="#5200ad"/><circle cx="466.7" cy="236.7" fill="#5100ae"/><circle cx="463.0" cy="237.5" fill="#3b00c4"/><circle cx="479.0" cy="235.9" fill="#2d00d2"/><circle cx="480.6" cy="240.2" fill="#aa0055"/><circle cx="438.7" cy="237.6" fill="#c2003d"/><circle cx="453.5" cy="235.4" fill="#670098"/><circle cx="464.2" cy="242.7" fill="#780087"/><circle cx="462.7" cy="242.6" fill="#4f00b0"/><circle cx="502.5" cy="241.8" fill="#690096"/><circle cx="497.2" cy="238.3" fill="#ac0053"/><circle cx="500.4" cy="233.0" fill="#870078"/><circle cx="485.8" cy="239.1" fill="#4d00b2"/><circle cx="504.8" cy="234.9" fill="#a2005d"/><circle cx="495.2" cy="241.5" fill="#b70048"/><circle cx="440.0" cy="243.9" fill="#81007e"/><circle cx="455.2" cy="234.7" fill="#ac0053"/><circle cx="489.8" cy="238.6" fill="#3e00c1"/><circle cx="440.4" cy="241.2" fill="#74008b"/><circle cx="443.7" cy="233.4" fill="#f4000b"/><circle cx="447.6" cy="235.1" fill="#a3005c"/><circle cx="445.4" cy="242.9" fill="#0f00f0"/><circle cx="511.6" cy="242.4" fill="#d2002d"/><circle cx="496.2" cy="234.2" fill="#5f00a0"/><circle cx="451.4" cy="234.5" fill="#91006e"/><circle cx="487.4" cy="237.8" fill="#f0000f"/><circle cx="464.0" cy="240.0" fill="#bd0042"/><circle cx="475.9" cy="234.0" fill="#2e00d1"/><circle cx="472.2" cy="238.1" fill="#4500ba"/><circle cx="492.8" cy="235.5" fill="#8c0073"/><circle cx="448.0" cy="231.9" fill="#c60039"/><circle cx="500.6" cy="241.1" fill="#2300dc"/><circle cx="492.2" cy="233.9" fill="#61009e"/><circle cx="481.8" cy="239.5" fill="#be0041"/><circle cx="502.9" cy="232.6" fill="#b80047"/><circle cx="473.9" cy="240.8" fill="#2800d7"/><circle cx="454.3" cy="235.2" fill="#7b0084"/><circle cx="475.8" cy="233.3" fill="#1800e7"/><circle cx="493.8" cy="243.1" fill="#860079"/><circle cx="472.1" cy="234.2" fill="#4900b6"/><circle cx="451.1" cy="243.4" fill="#4300bc"/><circle cx="491.5" cy="235.0" fill="#ac0053"/><circle cx="440.3" cy="239.6" fill="#fc0003"/><circle cx="485.3" cy="239.8" fill="#690096"/><circle cx="439.4" cy="241.9" fill="#b80047"/><circle cx="463.6" cy="242.9" fill="#4500ba"/><circle cx="460.0" cy="237.1" fill="#ac0053"/><circle cx="474.4" cy="240.1" fill="#73008c"/><circle cx="477.3" cy="243.9" fill="#fb0004"/><circle cx="454.9" cy="237.9" fill="#4c00b3"/><circle cx="502.4" cy="238.9" fill="#1000ef"/><circle cx="485.7" cy="243.0" fill="#1300ec"/><circle cx="505.7" cy="232.5" fill="#f3000c"/><circle cx="497.7" cy="239.0" fill="#e90016"/><circle cx="442.0" cy="242.6" fill="#2b00d4"/><circle cx="471.7" cy="240.0" fill="#be0041"/><circle cx="441.4" cy="237.5" fill="#770088"/><circle cx="449.4" cy="232.5" fill="#bd0042"/><circle cx="456.6" cy="233.6" fill="#a90056"/><circle cx="448.2" cy="239.9" fill="#df0020"/><circle cx="503.4" cy="239.5" fill="#2100de"/><circle cx="509.1" cy="243.6" fill="#f60009"/><circle cx="441.5" cy="235.7" fill="#2300dc"/><circle cx="498.7" cy="238.2" fill="#5900a6"/><circle cx="462.8" cy="243.5" fill="#cc0033"/><circle cx="461.8" cy="235.4" fill="#1400eb"/><circle cx="504.5" cy="237.3" fill="#4300bc"/><circle cx="478.6" cy="241.5" fill="#9a0065"/><circle cx="470.8" cy="240.6" fill="#ef0010"/><circle cx="489.1" cy="233.3" fill="#ca0035"/><circle cx="445.0" cy="239.7" fill="#ee0011"/><circle cx="457.6" cy="243.0" fill="#e5001a"/><circle cx="459.7" cy="232.7" fill="#7d0082"/><circle cx="439.2" cy="236.1" fill="#e1001e"/><circle cx="483.2" cy="242.9" fill="#d60029"/><circle cx="510.5" cy="243.4" fill="#93006c"/><circle cx="494.2" cy="242.8" fill="#c60039"/><circle cx="483.8" cy="237.6" fill="#860079"/><circle cx="477.6" cy="237.9" fill="#ef0010"/><circle cx="470.2" cy="240.9" fill="#1100ee"/><circle cx="465.4" cy="242.7" fill="#880077"/><circle cx="444.6" cy="242.1" fill="#b0004f"/><circle cx="482.5" cy="239.9" fill="#c4003b"/><circle cx="516.4" cy="233.1" fill="#d0308a"/><circle cx="520.2" cy="236.3" fill="#d0308a"/><circle cx="519.5" cy="234.0" fill="#d0308a"/></g></svg></main></body></html>
